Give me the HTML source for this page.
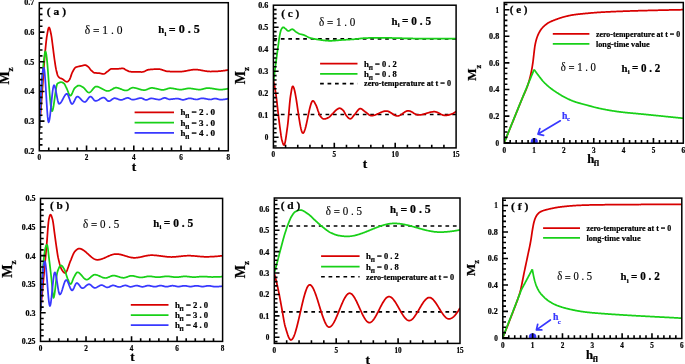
<!DOCTYPE html><html><head><meta charset="utf-8"><style>
html,body{margin:0;padding:0;background:#fff;width:685px;height:364px;overflow:hidden}
svg{display:block;will-change:transform}
text{font-family:"Liberation Serif",serif;fill:#000}
text[font-weight=bold],.yl,.xl{stroke:#000;stroke-width:0.22px}
.reg{stroke:#000;stroke-width:0.15px}
.yl{font-size:8.2px;font-weight:bold;text-anchor:end}
.xl{font-size:8.4px;font-weight:bold}
.b{font-weight:bold}
</style></head><body>
<svg width="685" height="364" viewBox="0 0 685 364">
<defs>
<clipPath id="clipa"><rect x="39.30" y="2.70" width="189.00" height="148.10"/></clipPath>
<clipPath id="clipb"><rect x="40.50" y="198.40" width="182.10" height="143.00"/></clipPath>
<clipPath id="clipc"><rect x="273.40" y="5.20" width="182.70" height="142.70"/></clipPath>
<clipPath id="clipd"><rect x="274.30" y="198.00" width="185.70" height="145.40"/></clipPath>
<clipPath id="clipe"><rect x="504.20" y="2.50" width="179.10" height="140.70"/></clipPath>
<clipPath id="clipf"><rect x="502.80" y="198.10" width="179.00" height="140.40"/></clipPath>
</defs>
<rect width="685" height="364" fill="#fff"/>
<path d="M39.30 130.00 39.78 123.82 40.27 117.58 40.75 111.27 41.23 104.91 41.72 98.48 42.20 92.00 42.65 85.70 43.10 79.08 43.55 72.41 44.00 65.94 44.45 59.91 44.90 54.60 45.34 49.87 45.78 45.34 46.22 41.19 46.66 37.61 47.10 34.80 47.58 32.21 48.05 29.82 48.52 28.08 49.00 27.40 49.44 27.84 49.88 29.02 50.32 30.71 50.76 32.71 51.20 34.80 51.60 37.11 52.00 40.04 52.40 43.26 52.80 46.40 53.22 49.69 53.65 53.08 54.08 56.41 54.50 59.50 54.90 62.24 55.30 64.90 55.70 67.33 56.10 69.40 56.52 71.32 56.95 73.09 57.38 74.56 57.80 75.60 58.22 76.31 58.65 76.90 59.08 77.36 59.50 77.70 59.98 77.99 60.47 78.22 60.95 78.41 61.43 78.59 61.92 78.78 62.40 79.00 62.85 79.27 63.30 79.59 63.75 79.95 64.20 80.32 64.65 80.69 65.10 81.04 65.55 81.34 66.00 81.58 66.45 81.74 66.90 81.80 67.32 81.72 67.73 81.50 68.15 81.18 68.57 80.76 68.98 80.30 69.40 79.80 69.88 78.98 70.37 77.78 70.85 76.36 71.33 74.88 71.82 73.51 72.30 72.40 72.77 71.49 73.24 70.59 73.71 69.72 74.19 68.94 74.66 68.27 75.13 67.74 75.60 67.40 76.07 67.18 76.54 67.00 77.01 66.86 77.49 66.73 77.96 66.62 78.43 66.51 78.90 66.40 79.32 66.31 79.73 66.22 80.15 66.14 80.57 66.06 80.98 65.98 81.40 65.90 81.86 65.79 82.33 65.67 82.79 65.53 83.25 65.40 83.71 65.29 84.17 65.19 84.64 65.12 85.10 65.10 85.58 65.16 86.07 65.34 86.55 65.59 87.03 65.91 87.52 66.25 88.00 66.60 88.46 66.99 88.91 67.49 89.37 68.07 89.83 68.67 90.29 69.27 90.74 69.83 91.20 70.30 91.67 70.75 92.14 71.21 92.61 71.65 93.09 72.06 93.56 72.41 94.03 72.66 94.50 72.80 94.95 72.86 95.41 72.91 95.86 72.95 96.32 72.98 96.77 73.01 97.23 73.03 97.68 73.06 98.14 73.08 98.59 73.12 99.05 73.15 99.50 73.20 99.94 73.27 100.39 73.36 100.83 73.48 101.28 73.60 101.72 73.72 102.17 73.83 102.61 73.92 103.06 73.98 103.50 74.00 103.94 73.94 104.39 73.78 104.83 73.54 105.28 73.24 105.72 72.89 106.17 72.52 106.61 72.16 107.06 71.81 107.50 71.50 107.97 71.17 108.43 70.80 108.90 70.41 109.37 70.01 109.83 69.63 110.30 69.30 110.77 69.04 111.23 68.86 111.70 68.80 112.18 68.80 112.67 68.80 113.15 68.80 113.63 68.80 114.12 68.80 114.60 68.80 115.08 68.80 115.57 68.80 116.05 68.80 116.53 68.80 117.02 68.80 117.50 68.80 117.98 68.79 118.46 68.77 118.95 68.73 119.43 68.68 119.91 68.63 120.39 68.57 120.87 68.52 121.35 68.47 121.84 68.43 122.32 68.41 122.80 68.40 123.26 68.46 123.72 68.61 124.19 68.83 124.65 69.10 125.11 69.40 125.58 69.69 126.04 69.97 126.50 70.20 126.99 70.42 127.47 70.66 127.96 70.89 128.45 71.12 128.94 71.33 129.43 71.50 129.91 71.63 130.40 71.70 130.86 71.73 131.32 71.76 131.78 71.79 132.24 71.81 132.70 71.83 133.16 71.85 133.62 71.86 134.08 71.88 134.54 71.89 135.00 71.90 135.47 71.91 135.93 71.92 136.40 71.93 136.87 71.94 137.33 71.95 137.80 71.96 138.27 71.97 138.73 71.97 139.20 71.98 139.67 71.99 140.13 71.99 140.60 71.99 141.07 72.00 141.53 72.00 142.00 72.00 142.47 71.97 142.93 71.89 143.40 71.77 143.87 71.61 144.33 71.43 144.80 71.22 145.27 71.00 145.73 70.77 146.20 70.54 146.67 70.32 147.13 70.12 147.60 69.94 148.07 69.78 148.53 69.67 149.00 69.60 149.49 69.55 149.99 69.51 150.48 69.47 150.98 69.43 151.47 69.39 151.97 69.35 152.46 69.31 152.96 69.28 153.45 69.25 153.95 69.22 154.44 69.20 154.94 69.18 155.43 69.16 155.93 69.14 156.42 69.13 156.92 69.11 157.41 69.11 157.91 69.10 158.40 69.10 158.89 69.12 159.39 69.17 159.88 69.24 160.38 69.34 160.87 69.47 161.37 69.61 161.86 69.76 162.36 69.93 162.85 70.10 163.35 70.27 163.84 70.45 164.34 70.62 164.83 70.78 165.33 70.93 165.82 71.07 166.32 71.19 166.81 71.28 167.31 71.36 167.80 71.40 168.26 71.43 168.72 71.45 169.18 71.47 169.65 71.49 170.11 71.51 170.57 71.53 171.03 71.55 171.49 71.56 171.95 71.58 172.42 71.59 172.88 71.59 173.34 71.60 173.80 71.60 174.28 71.60 174.75 71.60 175.23 71.60 175.71 71.60 176.18 71.60 176.66 71.60 177.14 71.60 177.62 71.60 178.09 71.60 178.57 71.60 179.05 71.60 179.52 71.60 180.00 71.60 180.49 71.59 180.99 71.58 181.48 71.55 181.97 71.51 182.47 71.46 182.96 71.40 183.45 71.34 183.95 71.27 184.44 71.19 184.94 71.11 185.43 71.02 185.92 70.93 186.42 70.84 186.91 70.74 187.40 70.65 187.90 70.55 188.39 70.46 188.88 70.36 189.38 70.27 189.87 70.18 190.36 70.09 190.86 70.01 191.35 69.93 191.85 69.86 192.34 69.80 192.83 69.74 193.33 69.69 193.82 69.65 194.31 69.62 194.81 69.61 195.30 69.60 195.79 69.61 196.29 69.62 196.78 69.65 197.27 69.69 197.77 69.74 198.26 69.80 198.75 69.86 199.25 69.93 199.74 70.01 200.23 70.09 200.73 70.18 201.22 70.27 201.71 70.36 202.21 70.46 202.70 70.55 203.19 70.64 203.69 70.74 204.18 70.83 204.67 70.92 205.17 71.01 205.66 71.09 206.15 71.17 206.65 71.24 207.14 71.30 207.63 71.36 208.13 71.41 208.62 71.45 209.11 71.48 209.61 71.49 210.10 71.50 210.59 71.50 211.08 71.50 211.58 71.49 212.07 71.49 212.56 71.48 213.05 71.47 213.54 71.46 214.04 71.45 214.53 71.43 215.02 71.41 215.51 71.39 216.00 71.37 216.49 71.35 216.99 71.32 217.48 71.29 217.97 71.26 218.46 71.23 218.95 71.19 219.45 71.15 219.94 71.11 220.43 71.06 220.92 71.02 221.41 70.97 221.91 70.91 222.40 70.85 222.89 70.79 223.38 70.73 223.87 70.66 224.36 70.59 224.86 70.52 225.35 70.44 225.84 70.36 226.33 70.28 226.82 70.19 227.32 70.10 227.81 70.00 228.30 69.90" stroke="#d80000" stroke-width="1.75" fill="none" stroke-linejoin="round" clip-path="url(#clipa)"/>
<path d="M39.30 130.00 39.75 120.39 40.20 111.36 40.65 102.92 41.10 95.09 41.55 87.87 42.00 81.26 42.45 75.28 42.90 69.94 43.35 65.24 43.80 61.20 44.20 57.80 44.60 54.60 45.00 52.23 45.40 51.30 45.87 52.17 46.34 54.62 46.81 58.37 47.29 63.18 47.76 68.76 48.23 74.88 48.70 81.25 49.17 87.62 49.64 93.74 50.11 99.32 50.59 104.13 51.06 107.88 51.53 110.33 52.00 111.20 52.46 110.68 52.92 109.23 53.38 107.03 53.83 104.27 54.29 101.13 54.75 97.78 55.21 94.40 55.67 91.19 56.12 88.31 56.58 85.95 57.04 84.28 57.50 83.50 57.96 83.22 58.42 82.97 58.89 82.75 59.35 82.56 59.81 82.41 60.28 82.30 60.74 82.22 61.20 82.20 61.67 82.25 62.13 82.38 62.60 82.59 63.07 82.85 63.53 83.16 64.00 83.50 64.42 83.94 64.83 84.60 65.25 85.40 65.67 86.28 66.08 87.17 66.50 88.00 66.99 89.03 67.47 90.23 67.96 91.51 68.45 92.76 68.94 93.91 69.43 94.84 69.91 95.47 70.40 95.70 70.89 95.48 71.38 94.88 71.87 94.00 72.36 92.92 72.84 91.75 73.33 90.58 73.82 89.50 74.31 88.61 74.80 88.00 75.26 87.59 75.71 87.19 76.17 86.81 76.62 86.45 77.08 86.14 77.53 85.88 77.99 85.67 78.44 85.55 78.90 85.50 79.36 85.53 79.81 85.63 80.27 85.77 80.72 85.96 81.18 86.18 81.63 86.42 82.09 86.68 82.54 86.94 83.00 87.20 83.49 87.54 83.98 87.98 84.47 88.51 84.97 89.09 85.46 89.70 85.95 90.31 86.44 90.90 86.93 91.44 87.43 91.91 87.92 92.28 88.41 92.51 88.90 92.60 89.39 92.52 89.87 92.30 90.36 91.97 90.85 91.53 91.33 91.02 91.82 90.45 92.31 89.85 92.79 89.25 93.28 88.65 93.77 88.08 94.25 87.57 94.74 87.13 95.23 86.80 95.71 86.58 96.20 86.50 96.69 86.52 97.17 86.59 97.66 86.69 98.15 86.83 98.64 87.00 99.12 87.20 99.61 87.43 100.10 87.67 100.59 87.92 101.08 88.19 101.56 88.47 102.05 88.75 102.54 89.03 103.03 89.31 103.51 89.58 104.00 89.83 104.49 90.07 104.98 90.30 105.46 90.50 105.95 90.67 106.44 90.81 106.93 90.91 107.41 90.98 107.90 91.00 108.38 90.97 108.86 90.87 109.35 90.73 109.83 90.54 110.31 90.31 110.79 90.06 111.28 89.78 111.76 89.50 112.24 89.20 112.72 88.92 113.21 88.64 113.69 88.39 114.17 88.16 114.65 87.97 115.14 87.83 115.62 87.73 116.10 87.70 116.59 87.72 117.09 87.78 117.58 87.87 118.08 87.99 118.57 88.14 119.07 88.30 119.56 88.49 120.06 88.69 120.55 88.89 121.05 89.10 121.55 89.31 122.04 89.51 122.53 89.71 123.03 89.90 123.53 90.06 124.02 90.21 124.52 90.33 125.01 90.42 125.50 90.48 126.00 90.50 126.49 90.46 126.99 90.34 127.48 90.17 127.97 89.94 128.46 89.68 128.96 89.40 129.45 89.10 129.94 88.80 130.44 88.52 130.93 88.26 131.42 88.03 131.91 87.86 132.41 87.74 132.90 87.70 133.39 87.71 133.88 87.75 134.37 87.81 134.87 87.89 135.36 87.99 135.85 88.10 136.34 88.23 136.83 88.37 137.32 88.51 137.81 88.67 138.30 88.82 138.80 88.98 139.29 89.13 139.78 89.29 140.27 89.43 140.76 89.57 141.25 89.70 141.74 89.81 142.23 89.91 142.73 89.99 143.22 90.05 143.71 90.09 144.20 90.10 144.68 90.08 145.16 90.01 145.64 89.90 146.12 89.76 146.61 89.59 147.09 89.40 147.57 89.21 148.05 89.00 148.53 88.79 149.01 88.60 149.49 88.41 149.97 88.24 150.46 88.10 150.94 87.99 151.42 87.92 151.90 87.90 152.36 87.91 152.83 87.95 153.29 88.01 153.75 88.09 154.22 88.18 154.68 88.29 155.15 88.39 155.61 88.50 156.07 88.61 156.54 88.71 157.00 88.80 157.48 88.90 157.97 89.00 158.45 89.12 158.93 89.24 159.42 89.36 159.90 89.48 160.38 89.59 160.87 89.69 161.35 89.78 161.83 89.84 162.32 89.89 162.80 89.90 163.29 89.88 163.77 89.82 164.26 89.72 164.75 89.60 165.23 89.46 165.72 89.30 166.21 89.13 166.69 88.97 167.18 88.80 167.67 88.64 168.15 88.50 168.64 88.38 169.13 88.28 169.61 88.22 170.10 88.20 170.60 88.21 171.09 88.24 171.59 88.28 172.08 88.33 172.58 88.40 173.07 88.48 173.57 88.56 174.06 88.65 174.56 88.75 175.05 88.85 175.55 88.95 176.04 89.05 176.54 89.15 177.03 89.24 177.53 89.32 178.02 89.40 178.52 89.47 179.01 89.52 179.51 89.56 180.00 89.59 180.50 89.60 180.98 89.59 181.46 89.56 181.93 89.51 182.41 89.45 182.89 89.37 183.37 89.29 183.84 89.20 184.32 89.10 184.80 89.00 185.28 88.90 185.76 88.80 186.23 88.71 186.71 88.63 187.19 88.55 187.67 88.49 188.14 88.44 188.62 88.41 189.10 88.40 189.58 88.41 190.05 88.43 190.53 88.46 191.01 88.50 191.49 88.56 191.96 88.62 192.44 88.69 192.92 88.76 193.40 88.84 193.87 88.92 194.35 89.00 194.83 89.08 195.30 89.16 195.78 89.24 196.26 89.31 196.74 89.38 197.21 89.44 197.69 89.50 198.17 89.54 198.65 89.57 199.12 89.59 199.60 89.60 200.07 89.59 200.54 89.54 201.01 89.48 201.48 89.39 201.95 89.29 202.42 89.17 202.89 89.05 203.36 88.92 203.84 88.78 204.31 88.65 204.78 88.53 205.25 88.41 205.72 88.31 206.19 88.22 206.66 88.16 207.13 88.11 207.60 88.10 208.08 88.11 208.56 88.12 209.04 88.15 209.53 88.19 210.01 88.24 210.49 88.29 210.97 88.35 211.45 88.42 211.93 88.49 212.41 88.56 212.90 88.64 213.38 88.73 213.86 88.81 214.34 88.89 214.82 88.97 215.30 89.06 215.79 89.14 216.27 89.21 216.75 89.28 217.23 89.35 217.71 89.41 218.19 89.46 218.67 89.51 219.16 89.55 219.64 89.58 220.12 89.59 220.60 89.60 221.08 89.60 221.56 89.58 222.04 89.56 222.53 89.52 223.01 89.48 223.49 89.43 223.97 89.38 224.45 89.31 224.93 89.24 225.41 89.17 225.89 89.08 226.38 89.00 226.86 88.90 227.34 88.81 227.82 88.70 228.30 88.60" stroke="#18d018" stroke-width="1.75" fill="none" stroke-linejoin="round" clip-path="url(#clipa)"/>
<path d="M39.30 130.00 39.75 118.78 40.20 108.55 40.65 99.36 41.10 91.25 41.55 84.27 42.00 78.46 42.45 73.86 42.90 70.52 43.35 68.49 43.80 67.80 44.28 69.33 44.76 73.47 45.24 79.57 45.72 86.98 46.20 95.05 46.68 103.12 47.16 110.53 47.64 116.63 48.12 120.77 48.60 122.30 49.09 121.44 49.58 119.07 50.07 115.53 50.56 111.15 51.05 106.27 51.55 101.23 52.04 96.35 52.53 91.97 53.02 88.43 53.51 86.06 54.00 85.20 54.46 85.63 54.93 86.82 55.39 88.60 55.85 90.79 56.32 93.24 56.78 95.76 57.25 98.21 57.71 100.40 58.17 102.18 58.64 103.37 59.10 103.80 59.59 103.69 60.08 103.37 60.56 102.88 61.05 102.24 61.54 101.48 62.03 100.64 62.51 99.73 63.00 98.80 63.49 97.87 63.98 96.96 64.46 96.12 64.95 95.36 65.44 94.72 65.93 94.23 66.41 93.91 66.90 93.80 67.36 94.04 67.83 94.69 68.29 95.66 68.75 96.87 69.22 98.21 69.68 99.59 70.15 100.93 70.61 102.14 71.07 103.11 71.54 103.76 72.00 104.00 72.48 103.83 72.96 103.36 73.45 102.65 73.93 101.78 74.41 100.80 74.89 99.80 75.37 98.82 75.85 97.95 76.34 97.24 76.82 96.77 77.30 96.60 77.77 96.66 78.24 96.83 78.71 97.10 79.17 97.44 79.64 97.85 80.11 98.31 80.58 98.80 81.05 99.30 81.52 99.80 81.99 100.29 82.46 100.75 82.92 101.16 83.39 101.50 83.86 101.77 84.33 101.94 84.80 102.00 85.27 101.89 85.75 101.60 86.22 101.16 86.70 100.60 87.17 99.97 87.65 99.30 88.12 98.63 88.60 98.00 89.08 97.44 89.55 97.00 90.03 96.71 90.50 96.60 90.95 96.70 91.41 96.97 91.86 97.39 92.32 97.89 92.77 98.46 93.23 99.04 93.68 99.61 94.14 100.11 94.59 100.53 95.05 100.80 95.50 100.90 95.98 100.87 96.46 100.77 96.95 100.63 97.43 100.44 97.91 100.21 98.39 99.96 98.88 99.68 99.36 99.40 99.84 99.10 100.32 98.82 100.81 98.54 101.29 98.29 101.77 98.06 102.25 97.87 102.74 97.73 103.22 97.63 103.70 97.60 104.15 97.68 104.61 97.91 105.06 98.26 105.52 98.68 105.97 99.16 106.43 99.64 106.88 100.12 107.34 100.54 107.79 100.89 108.25 101.12 108.70 101.20 109.18 101.14 109.67 100.98 110.15 100.73 110.63 100.42 111.12 100.07 111.60 99.70 112.08 99.33 112.57 98.98 113.05 98.67 113.53 98.42 114.02 98.26 114.50 98.20 114.96 98.22 115.43 98.29 115.89 98.40 116.36 98.54 116.82 98.70 117.29 98.87 117.75 99.05 118.21 99.23 118.68 99.40 119.14 99.56 119.61 99.70 120.07 99.81 120.54 99.88 121.00 99.90 121.48 99.87 121.96 99.79 122.44 99.66 122.91 99.50 123.39 99.32 123.87 99.11 124.35 98.90 124.83 98.69 125.31 98.48 125.79 98.30 126.26 98.14 126.74 98.01 127.22 97.93 127.70 97.90 128.19 97.95 128.68 98.09 129.17 98.29 129.66 98.53 130.15 98.80 130.64 99.07 131.13 99.31 131.62 99.51 132.11 99.65 132.60 99.70 133.09 99.68 133.59 99.64 134.08 99.57 134.58 99.48 135.07 99.37 135.56 99.24 136.06 99.11 136.55 98.97 137.05 98.83 137.54 98.69 138.04 98.56 138.53 98.43 139.02 98.32 139.52 98.23 140.01 98.16 140.51 98.12 141.00 98.10 141.46 98.14 141.93 98.26 142.39 98.43 142.85 98.64 143.32 98.88 143.78 99.12 144.25 99.36 144.71 99.57 145.17 99.74 145.64 99.86 146.10 99.90 146.56 99.87 147.03 99.77 147.49 99.63 147.95 99.45 148.42 99.25 148.88 99.05 149.35 98.85 149.81 98.67 150.27 98.53 150.74 98.43 151.20 98.40 151.67 98.41 152.14 98.45 152.61 98.50 153.08 98.57 153.55 98.65 154.02 98.74 154.49 98.84 154.96 98.95 155.44 99.05 155.91 99.16 156.38 99.26 156.85 99.35 157.32 99.43 157.79 99.50 158.26 99.55 158.73 99.59 159.20 99.60 159.66 99.57 160.12 99.47 160.57 99.33 161.03 99.16 161.49 98.96 161.95 98.75 162.41 98.54 162.87 98.34 163.32 98.17 163.78 98.03 164.24 97.93 164.70 97.90 165.17 97.94 165.64 98.05 166.11 98.20 166.58 98.39 167.05 98.60 167.52 98.81 167.99 99.00 168.46 99.15 168.93 99.26 169.40 99.30 169.87 99.29 170.34 99.27 170.81 99.24 171.28 99.20 171.75 99.15 172.22 99.10 172.69 99.04 173.16 98.98 173.64 98.92 174.11 98.86 174.58 98.80 175.05 98.75 175.52 98.70 175.99 98.66 176.46 98.63 176.93 98.61 177.40 98.60 177.87 98.62 178.33 98.69 178.80 98.79 179.27 98.91 179.73 99.05 180.20 99.20 180.67 99.35 181.13 99.49 181.60 99.61 182.07 99.71 182.53 99.78 183.00 99.80 183.48 99.78 183.96 99.72 184.44 99.62 184.91 99.50 185.39 99.36 185.87 99.21 186.35 99.05 186.83 98.89 187.31 98.74 187.79 98.60 188.26 98.48 188.74 98.38 189.22 98.32 189.70 98.30 190.19 98.32 190.67 98.37 191.16 98.44 191.64 98.54 192.13 98.65 192.61 98.77 193.10 98.90 193.59 99.03 194.07 99.15 194.56 99.26 195.04 99.36 195.53 99.43 196.01 99.48 196.50 99.50 196.96 99.48 197.42 99.41 197.88 99.31 198.33 99.19 198.79 99.05 199.25 98.90 199.71 98.75 200.17 98.61 200.62 98.49 201.08 98.39 201.54 98.32 202.00 98.30 202.48 98.31 202.97 98.34 203.45 98.39 203.93 98.45 204.42 98.53 204.90 98.61 205.38 98.70 205.87 98.80 206.35 98.90 206.83 99.00 207.32 99.10 207.80 99.19 208.28 99.27 208.77 99.35 209.25 99.41 209.73 99.46 210.22 99.49 210.70 99.50 211.18 99.47 211.66 99.37 212.13 99.24 212.61 99.08 213.09 98.92 213.57 98.76 214.04 98.63 214.52 98.53 215.00 98.50 215.47 98.52 215.93 98.58 216.40 98.67 216.87 98.79 217.33 98.91 217.80 99.05 218.27 99.19 218.73 99.31 219.20 99.43 219.67 99.52 220.13 99.58 220.60 99.60 221.08 99.60 221.56 99.59 222.04 99.57 222.53 99.55 223.01 99.52 223.49 99.48 223.97 99.43 224.45 99.38 224.93 99.31 225.41 99.23 225.89 99.14 226.38 99.04 226.86 98.92 227.34 98.80 227.82 98.66 228.30 98.50" stroke="#3838ff" stroke-width="1.75" fill="none" stroke-linejoin="round" clip-path="url(#clipa)"/>
<path d="M40.50 311.00 40.98 306.11 41.45 301.16 41.93 296.18 42.41 291.15 42.88 286.08 43.36 280.97 43.84 275.82 44.32 270.64 44.79 265.43 45.27 260.19 45.75 254.91 46.22 249.62 46.70 244.30 47.14 238.82 47.58 232.76 48.02 226.91 48.46 222.06 48.90 219.00 49.30 217.35 49.70 215.94 50.10 214.97 50.50 214.60 50.94 214.91 51.38 215.74 51.82 216.97 52.26 218.46 52.70 220.10 53.12 222.32 53.55 225.43 53.98 228.90 54.40 232.20 54.84 235.39 55.28 238.63 55.72 241.85 56.16 245.00 56.60 248.00 57.00 250.70 57.40 253.38 57.80 255.84 58.20 257.90 58.64 259.83 59.08 261.66 59.51 263.39 59.95 264.98 60.39 266.41 60.83 267.65 61.26 268.69 61.70 269.50 62.19 270.25 62.67 270.97 63.16 271.62 63.64 272.18 64.13 272.62 64.61 272.90 65.10 273.00 65.56 272.83 66.02 272.36 66.47 271.63 66.93 270.69 67.39 269.57 67.85 268.32 68.31 266.99 68.77 265.62 69.22 264.25 69.68 262.93 70.14 261.70 70.60 260.60 71.06 259.55 71.51 258.43 71.97 257.28 72.42 256.13 72.88 255.02 73.33 253.99 73.79 253.07 74.24 252.29 74.70 251.70 75.19 251.18 75.68 250.68 76.17 250.20 76.66 249.76 77.14 249.38 77.63 249.05 78.12 248.81 78.61 248.65 79.10 248.60 79.59 248.62 80.08 248.69 80.58 248.81 81.07 248.96 81.56 249.16 82.05 249.39 82.54 249.65 83.04 249.94 83.53 250.27 84.02 250.61 84.51 250.98 85.00 251.37 85.49 251.78 85.99 252.20 86.48 252.63 86.97 253.07 87.46 253.52 87.95 253.97 88.45 254.43 88.94 254.88 89.43 255.33 89.92 255.77 90.41 256.20 90.91 256.62 91.40 257.03 91.89 257.42 92.38 257.79 92.87 258.13 93.36 258.46 93.86 258.75 94.35 259.01 94.84 259.24 95.33 259.44 95.82 259.59 96.32 259.71 96.81 259.78 97.30 259.80 97.79 259.79 98.27 259.76 98.76 259.70 99.25 259.63 99.74 259.54 100.22 259.43 100.71 259.31 101.20 259.17 101.68 259.02 102.17 258.85 102.66 258.68 103.15 258.49 103.63 258.30 104.12 258.09 104.61 257.89 105.09 257.67 105.58 257.45 106.07 257.23 106.56 257.01 107.04 256.79 107.53 256.57 108.02 256.35 108.51 256.13 108.99 255.91 109.48 255.71 109.97 255.50 110.45 255.31 110.94 255.12 111.43 254.95 111.92 254.78 112.40 254.63 112.89 254.49 113.38 254.37 113.86 254.26 114.35 254.17 114.84 254.10 115.33 254.04 115.81 254.01 116.30 254.00 116.79 254.01 117.28 254.03 117.77 254.07 118.26 254.12 118.75 254.19 119.24 254.27 119.72 254.36 120.21 254.46 120.70 254.57 121.19 254.68 121.68 254.81 122.17 254.94 122.66 255.08 123.15 255.22 123.64 255.37 124.13 255.52 124.62 255.67 125.11 255.82 125.59 255.98 126.08 256.13 126.57 256.28 127.06 256.43 127.55 256.58 128.04 256.72 128.53 256.86 129.02 256.99 129.51 257.12 130.00 257.23 130.49 257.34 130.98 257.44 131.46 257.53 131.95 257.61 132.44 257.68 132.93 257.73 133.42 257.77 133.91 257.79 134.40 257.80 134.89 257.79 135.38 257.78 135.87 257.75 136.37 257.71 136.86 257.66 137.35 257.60 137.84 257.53 138.33 257.45 138.82 257.37 139.31 257.28 139.81 257.19 140.30 257.09 140.79 256.99 141.28 256.88 141.77 256.78 142.26 256.67 142.75 256.56 143.25 256.44 143.74 256.33 144.23 256.22 144.72 256.12 145.21 256.01 145.70 255.91 146.19 255.81 146.69 255.72 147.18 255.63 147.67 255.55 148.16 255.47 148.65 255.40 149.14 255.34 149.63 255.29 150.13 255.25 150.62 255.22 151.11 255.21 151.60 255.20 152.09 255.20 152.59 255.21 153.09 255.23 153.58 255.25 154.07 255.28 154.57 255.31 155.06 255.35 155.56 255.39 156.06 255.43 156.55 255.48 157.04 255.53 157.54 255.59 158.03 255.65 158.53 255.71 159.03 255.77 159.52 255.83 160.01 255.90 160.51 255.97 161.00 256.03 161.50 256.10 162.00 256.17 162.49 256.23 162.99 256.30 163.48 256.37 163.97 256.43 164.47 256.49 164.97 256.55 165.46 256.61 165.96 256.67 166.45 256.72 166.94 256.77 167.44 256.81 167.94 256.85 168.43 256.89 168.93 256.92 169.42 256.95 169.91 256.97 170.41 256.99 170.91 257.00 171.40 257.00 171.89 257.00 172.39 256.99 172.88 256.97 173.38 256.95 173.87 256.93 174.37 256.90 174.86 256.86 175.35 256.83 175.85 256.79 176.34 256.74 176.84 256.70 177.33 256.65 177.83 256.60 178.32 256.54 178.81 256.49 179.31 256.43 179.80 256.38 180.30 256.32 180.79 256.27 181.29 256.21 181.78 256.16 182.27 256.10 182.77 256.05 183.26 256.00 183.76 255.96 184.25 255.91 184.75 255.87 185.24 255.84 185.73 255.80 186.23 255.77 186.72 255.75 187.22 255.73 187.71 255.71 188.21 255.70 188.70 255.70 189.19 255.70 189.69 255.71 190.18 255.72 190.68 255.74 191.17 255.76 191.67 255.79 192.16 255.81 192.65 255.85 193.15 255.88 193.64 255.92 194.14 255.96 194.63 256.00 195.13 256.04 195.62 256.09 196.11 256.13 196.61 256.18 197.10 256.23 197.60 256.27 198.09 256.32 198.59 256.37 199.08 256.41 199.57 256.46 200.07 256.50 200.56 256.54 201.06 256.58 201.55 256.62 202.05 256.65 202.54 256.69 203.03 256.71 203.53 256.74 204.02 256.76 204.52 256.78 205.01 256.79 205.51 256.80 206.00 256.80 206.49 256.80 206.98 256.80 207.46 256.79 207.95 256.78 208.44 256.78 208.93 256.76 209.42 256.75 209.91 256.74 210.39 256.72 210.88 256.70 211.37 256.68 211.86 256.66 212.35 256.64 212.84 256.61 213.32 256.58 213.81 256.55 214.30 256.52 214.79 256.49 215.28 256.45 215.76 256.41 216.25 256.37 216.74 256.33 217.23 256.29 217.72 256.25 218.21 256.20 218.69 256.15 219.18 256.10 219.67 256.05 220.16 255.99 220.65 255.94 221.14 255.88 221.62 255.82 222.11 255.76 222.60 255.70" stroke="#d80000" stroke-width="1.75" fill="none" stroke-linejoin="round" clip-path="url(#clipb)"/>
<path d="M40.50 311.00 40.96 300.91 41.43 291.79 41.89 283.59 42.36 276.29 42.82 269.84 43.29 264.22 43.75 259.39 44.21 255.31 44.68 251.96 45.14 249.29 45.61 247.27 46.07 245.88 46.54 245.06 47.00 244.80 47.46 245.88 47.92 248.68 48.38 252.51 48.84 256.71 49.30 260.60 49.72 263.92 50.14 267.42 50.56 271.06 50.98 274.77 51.40 278.50 51.82 282.88 52.24 287.97 52.66 292.79 53.08 296.39 53.50 297.80 53.94 297.02 54.39 294.92 54.83 291.82 55.28 288.08 55.72 284.04 56.17 280.02 56.61 276.39 57.06 273.47 57.50 271.60 57.94 270.41 58.38 269.28 58.81 268.23 59.25 267.30 59.69 266.51 60.12 265.92 60.56 265.53 61.00 265.40 61.49 265.53 61.97 265.88 62.46 266.41 62.94 267.08 63.43 267.85 63.91 268.67 64.40 269.50 64.89 270.51 65.37 271.82 65.86 273.32 66.34 274.90 66.83 276.47 67.31 277.90 67.80 279.10 68.27 280.16 68.73 281.26 69.20 282.30 69.67 283.17 70.13 283.78 70.60 284.00 71.09 283.72 71.57 282.96 72.06 281.87 72.54 280.60 73.03 279.28 73.51 278.07 74.00 277.10 74.44 276.34 74.88 275.54 75.31 274.74 75.75 273.98 76.19 273.31 76.62 272.78 77.06 272.43 77.50 272.30 77.98 272.36 78.46 272.53 78.94 272.79 79.42 273.13 79.89 273.55 80.37 274.02 80.85 274.54 81.33 275.09 81.81 275.66 82.29 276.24 82.77 276.81 83.25 277.36 83.73 277.88 84.21 278.35 84.68 278.77 85.16 279.11 85.64 279.37 86.12 279.54 86.60 279.60 87.08 279.55 87.56 279.41 88.05 279.20 88.53 278.91 89.01 278.58 89.49 278.20 89.98 277.79 90.46 277.37 90.94 276.93 91.42 276.51 91.91 276.10 92.39 275.72 92.87 275.39 93.35 275.10 93.84 274.89 94.32 274.75 94.80 274.70 95.28 274.72 95.76 274.78 96.25 274.87 96.73 274.99 97.21 275.13 97.69 275.30 98.17 275.49 98.65 275.69 99.14 275.90 99.62 276.13 100.10 276.35 100.58 276.57 101.06 276.80 101.55 277.01 102.03 277.21 102.51 277.40 102.99 277.57 103.47 277.71 103.95 277.83 104.44 277.92 104.92 277.98 105.40 278.00 105.88 277.98 106.35 277.91 106.83 277.80 107.31 277.66 107.78 277.50 108.26 277.31 108.74 277.11 109.21 276.91 109.69 276.69 110.16 276.49 110.64 276.29 111.12 276.10 111.59 275.94 112.07 275.80 112.55 275.69 113.02 275.62 113.50 275.60 113.98 275.61 114.45 275.66 114.93 275.72 115.40 275.81 115.88 275.91 116.36 276.04 116.83 276.17 117.31 276.31 117.79 276.47 118.26 276.62 118.74 276.78 119.21 276.93 119.69 277.09 120.17 277.23 120.64 277.36 121.12 277.49 121.60 277.59 122.07 277.68 122.55 277.74 123.02 277.79 123.50 277.80 123.97 277.78 124.44 277.72 124.91 277.64 125.38 277.52 125.85 277.38 126.32 277.23 126.79 277.06 127.26 276.89 127.74 276.71 128.21 276.54 128.68 276.37 129.15 276.22 129.62 276.08 130.09 275.96 130.56 275.88 131.03 275.82 131.50 275.80 131.97 275.81 132.45 275.85 132.93 275.90 133.40 275.98 133.88 276.07 134.35 276.17 134.82 276.28 135.30 276.40 135.78 276.52 136.25 276.65 136.72 276.78 137.20 276.90 137.68 277.02 138.15 277.13 138.62 277.23 139.10 277.32 139.57 277.40 140.05 277.45 140.53 277.49 141.00 277.50 141.48 277.49 141.95 277.45 142.43 277.40 142.91 277.33 143.38 277.25 143.86 277.16 144.34 277.06 144.81 276.95 145.29 276.85 145.76 276.74 146.24 276.64 146.72 276.55 147.19 276.47 147.67 276.40 148.15 276.35 148.62 276.31 149.10 276.30 149.59 276.31 150.09 276.33 150.58 276.37 151.08 276.41 151.57 276.47 152.07 276.53 152.56 276.60 153.06 276.68 153.55 276.75 154.04 276.82 154.54 276.90 155.03 276.97 155.53 277.03 156.02 277.09 156.52 277.13 157.01 277.17 157.51 277.19 158.00 277.20 158.47 277.19 158.95 277.17 159.42 277.14 159.89 277.10 160.37 277.05 160.84 276.99 161.32 276.92 161.79 276.86 162.26 276.79 162.74 276.71 163.21 276.64 163.68 276.58 164.16 276.51 164.63 276.45 165.11 276.40 165.58 276.36 166.05 276.33 166.53 276.31 167.00 276.30 167.47 276.31 167.95 276.33 168.42 276.36 168.89 276.40 169.37 276.45 169.84 276.51 170.32 276.58 170.79 276.64 171.26 276.71 171.74 276.79 172.21 276.86 172.68 276.92 173.16 276.99 173.63 277.05 174.11 277.10 174.58 277.14 175.05 277.17 175.53 277.19 176.00 277.20 176.47 277.19 176.95 277.18 177.42 277.15 177.89 277.11 178.37 277.06 178.84 277.01 179.32 276.95 179.79 276.89 180.26 276.83 180.74 276.77 181.21 276.71 181.68 276.65 182.16 276.59 182.63 276.54 183.11 276.49 183.58 276.45 184.05 276.42 184.53 276.41 185.00 276.40 185.47 276.41 185.95 276.42 186.42 276.45 186.89 276.48 187.37 276.52 187.84 276.57 188.32 276.62 188.79 276.67 189.26 276.72 189.74 276.78 190.21 276.83 190.68 276.88 191.16 276.93 191.63 276.98 192.11 277.02 192.58 277.05 193.05 277.08 193.53 277.09 194.00 277.10 194.47 277.10 194.95 277.08 195.42 277.06 195.89 277.03 196.37 277.00 196.84 276.96 197.32 276.92 197.79 276.87 198.26 276.82 198.74 276.78 199.21 276.73 199.68 276.68 200.16 276.64 200.63 276.60 201.11 276.57 201.58 276.54 202.05 276.52 202.53 276.50 203.00 276.50 203.47 276.50 203.95 276.52 204.42 276.53 204.89 276.56 205.37 276.59 205.84 276.62 206.32 276.65 206.79 276.69 207.26 276.73 207.74 276.77 208.21 276.81 208.68 276.85 209.16 276.88 209.63 276.91 210.11 276.94 210.58 276.97 211.05 276.98 211.53 277.00 212.00 277.00 212.48 277.00 212.96 277.00 213.45 276.99 213.93 276.99 214.41 276.98 214.89 276.98 215.37 276.97 215.85 276.96 216.34 276.95 216.82 276.93 217.30 276.92 217.78 276.90 218.26 276.88 218.75 276.86 219.23 276.83 219.71 276.81 220.19 276.78 220.67 276.75 221.15 276.72 221.64 276.68 222.12 276.64 222.60 276.60" stroke="#18d018" stroke-width="1.75" fill="none" stroke-linejoin="round" clip-path="url(#clipb)"/>
<path d="M40.50 311.00 40.98 301.42 41.46 292.67 41.93 284.83 42.41 277.97 42.89 272.18 43.37 267.54 43.84 264.13 44.32 262.02 44.80 261.30 45.26 262.34 45.73 265.20 46.19 269.46 46.65 274.73 47.12 280.61 47.58 286.69 48.05 292.57 48.51 297.84 48.97 302.10 49.44 304.96 49.90 306.00 50.39 305.06 50.88 302.50 51.37 298.72 51.86 294.14 52.35 289.15 52.84 284.16 53.33 279.58 53.82 275.80 54.31 273.24 54.80 272.30 55.25 272.82 55.71 274.23 56.16 276.35 56.62 278.97 57.07 281.89 57.53 284.91 57.98 287.83 58.44 290.45 58.89 292.57 59.35 293.98 59.80 294.50 60.29 294.26 60.78 293.58 61.28 292.54 61.77 291.23 62.26 289.72 62.75 288.08 63.25 286.42 63.74 284.78 64.23 283.27 64.72 281.96 65.22 280.92 65.71 280.24 66.20 280.00 66.69 280.20 67.18 280.77 67.67 281.62 68.17 282.70 68.66 283.91 69.15 285.20 69.64 286.49 70.13 287.70 70.62 288.78 71.12 289.63 71.61 290.20 72.10 290.40 72.57 290.19 73.04 289.63 73.51 288.80 73.98 287.80 74.45 286.70 74.92 285.60 75.39 284.60 75.86 283.77 76.33 283.21 76.80 283.00 77.27 283.10 77.73 283.39 78.20 283.81 78.67 284.35 79.13 284.96 79.60 285.60 80.07 286.24 80.53 286.85 81.00 287.39 81.47 287.81 81.93 288.10 82.40 288.20 82.87 288.14 83.34 287.98 83.81 287.73 84.29 287.41 84.76 287.03 85.23 286.63 85.70 286.20 86.17 285.77 86.64 285.37 87.11 284.99 87.59 284.67 88.06 284.42 88.53 284.26 89.00 284.20 89.48 284.27 89.97 284.47 90.45 284.78 90.93 285.16 91.42 285.59 91.90 286.05 92.38 286.51 92.87 286.94 93.35 287.32 93.83 287.63 94.32 287.83 94.80 287.90 95.29 287.86 95.77 287.74 96.26 287.57 96.74 287.34 97.23 287.08 97.71 286.80 98.20 286.50 98.69 286.20 99.17 285.92 99.66 285.66 100.14 285.43 100.63 285.26 101.11 285.14 101.60 285.10 102.07 285.15 102.55 285.27 103.02 285.46 103.50 285.70 103.97 285.97 104.45 286.25 104.92 286.53 105.40 286.80 105.88 287.04 106.35 287.23 106.83 287.35 107.30 287.40 107.77 287.36 108.25 287.25 108.72 287.09 109.20 286.88 109.67 286.65 110.15 286.40 110.62 286.15 111.10 285.92 111.58 285.71 112.05 285.55 112.53 285.44 113.00 285.40 113.48 285.43 113.95 285.50 114.43 285.62 114.91 285.76 115.38 285.93 115.86 286.11 116.34 286.29 116.82 286.47 117.29 286.64 117.77 286.78 118.25 286.90 118.72 286.97 119.20 287.00 119.68 286.97 120.15 286.90 120.63 286.78 121.11 286.64 121.58 286.47 122.06 286.29 122.54 286.11 123.02 285.93 123.49 285.76 123.97 285.62 124.45 285.50 124.92 285.43 125.40 285.40 125.87 285.43 126.35 285.52 126.82 285.66 127.29 285.82 127.76 286.00 128.24 286.20 128.71 286.38 129.18 286.54 129.65 286.68 130.13 286.77 130.60 286.80 131.07 286.78 131.54 286.72 132.01 286.64 132.48 286.53 132.95 286.40 133.42 286.27 133.88 286.13 134.35 286.00 134.82 285.87 135.29 285.76 135.76 285.68 136.23 285.62 136.70 285.60 137.17 285.62 137.65 285.69 138.12 285.79 138.60 285.91 139.07 286.05 139.55 286.20 140.03 286.35 140.50 286.49 140.97 286.61 141.45 286.71 141.93 286.78 142.40 286.80 142.88 286.78 143.35 286.71 143.82 286.61 144.30 286.49 144.78 286.35 145.25 286.20 145.72 286.05 146.20 285.91 146.68 285.79 147.15 285.69 147.62 285.62 148.10 285.60 148.58 285.62 149.06 285.66 149.54 285.73 150.01 285.82 150.49 285.92 150.97 286.03 151.45 286.15 151.93 286.27 152.41 286.38 152.89 286.48 153.36 286.57 153.84 286.64 154.32 286.68 154.80 286.70 155.28 286.68 155.75 286.62 156.23 286.53 156.70 286.41 157.18 286.29 157.65 286.15 158.12 286.01 158.60 285.89 159.07 285.77 159.55 285.68 160.03 285.62 160.50 285.60 160.96 285.62 161.42 285.67 161.88 285.75 162.35 285.85 162.81 285.96 163.27 286.09 163.73 286.21 164.19 286.34 164.65 286.45 165.12 286.55 165.58 286.63 166.04 286.68 166.50 286.70 166.96 286.68 167.42 286.64 167.88 286.56 168.35 286.47 168.81 286.37 169.27 286.26 169.73 286.14 170.19 286.03 170.65 285.93 171.12 285.84 171.58 285.76 172.04 285.72 172.50 285.70 172.96 285.72 173.42 285.76 173.88 285.82 174.35 285.90 174.81 286.00 175.27 286.10 175.73 286.20 176.19 286.30 176.65 286.40 177.12 286.48 177.58 286.54 178.04 286.58 178.50 286.60 178.96 286.59 179.42 286.55 179.88 286.49 180.35 286.42 180.81 286.34 181.27 286.25 181.73 286.15 182.19 286.06 182.65 285.98 183.12 285.91 183.58 285.85 184.04 285.81 184.50 285.80 184.96 285.81 185.42 285.85 185.88 285.91 186.35 285.98 186.81 286.06 187.27 286.15 187.73 286.25 188.19 286.34 188.65 286.42 189.12 286.49 189.58 286.55 190.04 286.59 190.50 286.60 190.96 286.59 191.42 286.55 191.88 286.49 192.35 286.42 192.81 286.34 193.27 286.25 193.73 286.15 194.19 286.06 194.65 285.98 195.12 285.91 195.58 285.85 196.04 285.81 196.50 285.80 196.96 285.81 197.42 285.85 197.88 285.91 198.35 285.98 198.81 286.06 199.27 286.15 199.73 286.25 200.19 286.34 200.65 286.42 201.12 286.49 201.58 286.55 202.04 286.59 202.50 286.60 202.96 286.59 203.42 286.55 203.88 286.49 204.35 286.42 204.81 286.34 205.27 286.25 205.73 286.15 206.19 286.06 206.65 285.98 207.12 285.91 207.58 285.85 208.04 285.81 208.50 285.80 208.96 285.81 209.42 285.85 209.88 285.91 210.35 285.98 210.81 286.06 211.27 286.15 211.73 286.25 212.19 286.34 212.65 286.42 213.12 286.49 213.58 286.55 214.04 286.59 214.50 286.60 214.98 286.60 215.45 286.60 215.93 286.59 216.41 286.59 216.88 286.58 217.36 286.57 217.84 286.56 218.31 286.54 218.79 286.51 219.26 286.49 219.74 286.45 220.22 286.41 220.69 286.36 221.17 286.31 221.65 286.25 222.12 286.18 222.60 286.10" stroke="#3838ff" stroke-width="1.75" fill="none" stroke-linejoin="round" clip-path="url(#clipb)"/>
<path d="M273.40 38.90H456.10" stroke="#000" stroke-width="1.6" stroke-dasharray="3.7 3.75" stroke-dashoffset="0" fill="none" clip-path="url(#clipc)"/>
<path d="M273.40 114.50H456.10" stroke="#000" stroke-width="1.6" stroke-dasharray="3.7 3.75" stroke-dashoffset="0" fill="none" clip-path="url(#clipc)"/>
<path d="M273.40 82.00 273.84 78.54 274.28 75.10 274.72 71.70 275.16 68.33 275.60 65.00 276.04 61.70 276.48 58.43 276.92 55.19 277.36 51.98 277.80 48.80 278.27 45.22 278.75 41.56 279.23 38.17 279.70 35.40 280.07 33.58 280.45 31.92 280.82 30.54 281.20 29.60 281.60 28.89 282.00 28.27 282.40 27.76 282.80 27.42 283.20 27.30 283.66 27.39 284.12 27.64 284.58 27.98 285.04 28.35 285.50 28.70 285.97 29.10 286.43 29.58 286.90 30.09 287.37 30.55 287.83 30.87 288.30 31.00 288.79 30.92 289.27 30.72 289.76 30.43 290.25 30.10 290.74 29.77 291.23 29.48 291.71 29.28 292.20 29.20 292.68 29.28 293.15 29.51 293.62 29.85 294.10 30.26 294.57 30.70 295.05 31.15 295.52 31.56 296.00 31.90 296.49 32.20 296.98 32.50 297.46 32.80 297.95 33.09 298.44 33.36 298.92 33.60 299.41 33.82 299.90 34.00 300.37 34.14 300.84 34.26 301.31 34.36 301.79 34.46 302.26 34.56 302.73 34.67 303.20 34.80 303.67 34.95 304.13 35.13 304.60 35.33 305.07 35.54 305.53 35.77 306.00 36.00 306.47 36.24 306.93 36.49 307.40 36.72 307.87 36.96 308.33 37.18 308.80 37.39 309.27 37.58 309.73 37.75 310.20 37.90 310.68 38.04 311.16 38.17 311.65 38.29 312.13 38.41 312.61 38.53 313.09 38.64 313.58 38.75 314.06 38.85 314.54 38.95 315.02 39.04 315.51 39.13 315.99 39.22 316.47 39.30 316.95 39.38 317.44 39.46 317.92 39.53 318.40 39.60 318.88 39.67 319.37 39.74 319.85 39.81 320.33 39.88 320.82 39.95 321.30 40.02 321.78 40.09 322.27 40.15 322.75 40.22 323.23 40.28 323.72 40.34 324.20 40.40 324.68 40.46 325.17 40.51 325.65 40.56 326.13 40.61 326.62 40.65 327.10 40.69 327.58 40.72 328.07 40.75 328.55 40.77 329.03 40.79 329.52 40.80 330.00 40.80 330.49 40.80 330.98 40.79 331.46 40.78 331.95 40.76 332.44 40.74 332.93 40.71 333.41 40.68 333.90 40.65 334.39 40.61 334.88 40.57 335.36 40.53 335.85 40.49 336.34 40.45 336.82 40.41 337.31 40.36 337.80 40.32 338.29 40.27 338.77 40.23 339.26 40.19 339.75 40.15 340.24 40.11 340.72 40.07 341.21 40.03 341.70 40.00 342.19 39.97 342.68 39.94 343.16 39.91 343.65 39.88 344.14 39.85 344.62 39.83 345.11 39.80 345.60 39.77 346.09 39.75 346.57 39.72 347.06 39.69 347.55 39.67 348.04 39.64 348.52 39.61 349.01 39.59 349.50 39.56 349.99 39.53 350.47 39.50 350.96 39.47 351.45 39.44 351.94 39.40 352.42 39.37 352.91 39.34 353.40 39.30 353.89 39.26 354.38 39.22 354.86 39.17 355.35 39.12 355.84 39.06 356.32 39.01 356.81 38.95 357.30 38.89 357.79 38.83 358.27 38.76 358.76 38.70 359.25 38.64 359.74 38.58 360.23 38.52 360.71 38.46 361.20 38.41 361.69 38.35 362.18 38.30 362.66 38.26 363.15 38.22 363.64 38.18 364.12 38.15 364.61 38.12 365.10 38.10 365.60 38.08 366.09 38.07 366.59 38.05 367.09 38.03 367.58 38.02 368.08 38.00 368.58 37.99 369.07 37.97 369.57 37.96 370.07 37.95 370.56 37.93 371.06 37.92 371.56 37.91 372.05 37.90 372.55 37.89 373.05 37.88 373.54 37.87 374.04 37.86 374.54 37.85 375.03 37.84 375.53 37.83 376.03 37.83 376.52 37.82 377.02 37.81 377.52 37.81 378.01 37.81 378.51 37.80 379.01 37.80 379.50 37.80 380.00 37.80 380.49 37.80 380.98 37.80 381.46 37.80 381.95 37.81 382.44 37.81 382.93 37.82 383.41 37.82 383.90 37.83 384.39 37.83 384.88 37.84 385.37 37.85 385.85 37.86 386.34 37.87 386.83 37.88 387.32 37.89 387.80 37.90 388.29 37.91 388.78 37.92 389.27 37.93 389.76 37.94 390.24 37.96 390.73 37.97 391.22 37.98 391.71 37.99 392.20 38.01 392.68 38.02 393.17 38.03 393.66 38.05 394.15 38.06 394.63 38.07 395.12 38.08 395.61 38.10 396.10 38.11 396.59 38.12 397.07 38.13 397.56 38.15 398.05 38.16 398.54 38.17 399.02 38.18 399.51 38.19 400.00 38.20 400.49 38.21 400.98 38.22 401.46 38.23 401.95 38.24 402.44 38.25 402.93 38.26 403.41 38.27 403.90 38.29 404.39 38.30 404.88 38.31 405.37 38.32 405.85 38.33 406.34 38.34 406.83 38.36 407.32 38.37 407.80 38.38 408.29 38.39 408.78 38.40 409.27 38.41 409.76 38.42 410.24 38.44 410.73 38.45 411.22 38.46 411.71 38.47 412.20 38.48 412.68 38.49 413.17 38.50 413.66 38.51 414.15 38.52 414.63 38.53 415.12 38.54 415.61 38.54 416.10 38.55 416.59 38.56 417.07 38.57 417.56 38.57 418.05 38.58 418.54 38.59 419.02 38.59 419.51 38.60 420.00 38.60 420.49 38.60 420.98 38.61 421.46 38.61 421.95 38.62 422.44 38.62 422.93 38.62 423.41 38.63 423.90 38.63 424.39 38.63 424.88 38.64 425.37 38.64 425.85 38.64 426.34 38.65 426.83 38.65 427.32 38.65 427.80 38.66 428.29 38.66 428.78 38.66 429.27 38.67 429.76 38.67 430.24 38.67 430.73 38.67 431.22 38.68 431.71 38.68 432.20 38.68 432.68 38.68 433.17 38.69 433.66 38.69 434.15 38.69 434.63 38.69 435.12 38.69 435.61 38.69 436.10 38.69 436.59 38.70 437.07 38.70 437.56 38.70 438.05 38.70 438.54 38.70 439.02 38.70 439.51 38.70 440.00 38.70 440.49 38.70 440.98 38.70 441.46 38.70 441.95 38.70 442.44 38.70 442.93 38.70 443.42 38.70 443.90 38.70 444.39 38.70 444.88 38.70 445.37 38.70 445.85 38.70 446.34 38.70 446.83 38.70 447.32 38.70 447.81 38.70 448.29 38.70 448.78 38.70 449.27 38.70 449.76 38.70 450.25 38.70 450.73 38.70 451.22 38.70 451.71 38.70 452.20 38.70 452.68 38.70 453.17 38.70 453.66 38.70 454.15 38.70 454.64 38.70 455.12 38.70 455.61 38.70 456.10 38.70" stroke="#18d018" stroke-width="1.75" fill="none" stroke-linejoin="round" clip-path="url(#clipc)"/>
<path d="M273.40 81.00 273.85 82.76 274.30 84.85 274.75 87.22 275.20 89.84 275.65 92.64 276.10 95.60 276.53 98.79 276.95 102.45 277.38 106.29 277.80 110.00 278.20 113.39 278.60 116.83 279.00 120.21 279.40 123.47 279.80 126.50 280.22 129.61 280.64 132.73 281.06 135.64 281.48 138.13 281.90 140.00 282.32 141.48 282.74 142.86 283.16 144.02 283.58 144.81 284.00 145.10 284.44 144.63 284.88 143.34 285.31 141.36 285.75 138.85 286.19 135.96 286.62 132.84 287.06 129.64 287.50 126.50 287.94 122.84 288.39 118.30 288.83 113.26 289.27 108.09 289.71 103.17 290.16 98.88 290.60 95.60 291.02 93.02 291.44 90.52 291.86 88.37 292.28 86.87 292.70 86.30 293.19 86.61 293.67 87.49 294.16 88.89 294.64 90.75 295.13 93.00 295.61 95.58 296.10 98.43 296.59 101.50 297.07 104.72 297.56 108.03 298.04 111.37 298.53 114.68 299.01 117.90 299.50 120.97 299.99 123.82 300.47 126.40 300.96 128.65 301.44 130.51 301.93 131.91 302.41 132.79 302.90 133.10 303.38 132.89 303.85 132.28 304.33 131.31 304.80 130.03 305.28 128.48 305.76 126.70 306.23 124.73 306.71 122.61 307.19 120.39 307.66 118.10 308.14 115.80 308.61 113.51 309.09 111.29 309.57 109.17 310.04 107.20 310.52 105.42 311.00 103.87 311.47 102.59 311.95 101.62 312.42 101.01 312.90 100.80 313.37 100.96 313.84 101.39 314.31 102.04 314.79 102.86 315.26 103.78 315.73 104.74 316.20 105.70 316.62 106.67 317.04 107.83 317.46 109.10 317.88 110.36 318.30 111.50 318.70 112.54 319.10 113.61 319.50 114.61 319.90 115.47 320.30 116.10 320.76 116.66 321.23 117.19 321.69 117.68 322.15 118.12 322.61 118.48 323.07 118.76 323.54 118.94 324.00 119.00 324.47 118.98 324.93 118.91 325.40 118.81 325.87 118.67 326.33 118.51 326.80 118.32 327.27 118.12 327.73 117.91 328.20 117.70 328.66 117.45 329.11 117.13 329.57 116.75 330.02 116.32 330.48 115.87 330.93 115.40 331.39 114.92 331.84 114.45 332.30 114.00 332.76 113.55 333.21 113.07 333.67 112.57 334.12 112.07 334.58 111.58 335.03 111.10 335.49 110.65 335.94 110.25 336.40 109.90 336.84 109.58 337.29 109.25 337.73 108.93 338.17 108.64 338.61 108.41 339.06 108.26 339.50 108.20 339.95 108.25 340.40 108.38 340.85 108.59 341.30 108.86 341.75 109.18 342.20 109.53 342.65 109.91 343.10 110.30 343.57 110.84 344.04 111.58 344.51 112.45 344.99 113.37 345.46 114.27 345.93 115.07 346.40 115.70 346.88 116.23 347.35 116.77 347.82 117.29 348.30 117.77 348.77 118.19 349.25 118.51 349.72 118.72 350.20 118.80 350.68 118.71 351.16 118.46 351.64 118.07 352.12 117.58 352.60 117.01 353.08 116.39 353.56 115.76 354.04 115.13 354.52 114.53 355.00 114.00 355.47 113.48 355.95 112.88 356.42 112.25 356.89 111.60 357.36 110.95 357.84 110.34 358.31 109.78 358.78 109.30 359.25 108.93 359.73 108.69 360.20 108.60 360.68 108.65 361.16 108.80 361.65 109.04 362.13 109.34 362.61 109.69 363.09 110.07 363.57 110.48 364.05 110.89 364.54 111.29 365.02 111.67 365.50 112.00 365.98 112.33 366.47 112.70 366.95 113.10 367.43 113.51 367.92 113.92 368.40 114.31 368.88 114.68 369.37 115.02 369.85 115.30 370.33 115.51 370.82 115.65 371.30 115.70 371.79 115.69 372.27 115.64 372.76 115.58 373.25 115.49 373.74 115.37 374.22 115.24 374.71 115.09 375.20 114.92 375.68 114.74 376.17 114.55 376.66 114.34 377.15 114.13 377.63 113.91 378.12 113.69 378.61 113.46 379.09 113.24 379.58 113.01 380.07 112.79 380.55 112.57 381.04 112.36 381.53 112.15 382.02 111.96 382.50 111.78 382.99 111.61 383.48 111.46 383.96 111.33 384.45 111.21 384.94 111.12 385.43 111.06 385.91 111.01 386.40 111.00 386.89 111.03 387.37 111.11 387.86 111.23 388.35 111.40 388.83 111.61 389.32 111.84 389.81 112.11 390.30 112.39 390.78 112.70 391.27 113.01 391.76 113.34 392.24 113.66 392.73 113.99 393.22 114.30 393.70 114.61 394.19 114.89 394.68 115.16 395.17 115.39 395.65 115.60 396.14 115.77 396.63 115.89 397.11 115.97 397.60 116.00 398.08 115.97 398.55 115.88 399.03 115.74 399.51 115.55 399.99 115.32 400.46 115.05 400.94 114.76 401.42 114.44 401.90 114.10 402.37 113.75 402.85 113.40 403.33 113.05 403.80 112.70 404.28 112.36 404.76 112.04 405.24 111.75 405.71 111.48 406.19 111.25 406.67 111.06 407.15 110.92 407.62 110.83 408.10 110.80 408.58 110.83 409.05 110.90 409.53 111.01 410.01 111.17 410.49 111.35 410.96 111.57 411.44 111.81 411.92 112.06 412.40 112.33 412.87 112.61 413.35 112.90 413.83 113.19 414.30 113.47 414.78 113.74 415.26 113.99 415.74 114.23 416.21 114.45 416.69 114.63 417.17 114.79 417.65 114.90 418.12 114.97 418.60 115.00 419.09 114.99 419.59 114.96 420.08 114.92 420.58 114.86 421.07 114.78 421.56 114.70 422.06 114.60 422.55 114.48 423.04 114.36 423.54 114.23 424.03 114.10 424.52 113.96 425.02 113.81 425.51 113.66 426.01 113.50 426.50 113.35 426.99 113.20 427.49 113.04 427.98 112.89 428.48 112.74 428.97 112.60 429.46 112.47 429.96 112.34 430.45 112.22 430.94 112.10 431.44 112.00 431.93 111.92 432.42 111.84 432.92 111.78 433.41 111.74 433.91 111.71 434.40 111.70 434.88 111.72 435.35 111.79 435.83 111.89 436.31 112.02 436.79 112.19 437.26 112.38 437.74 112.59 438.22 112.81 438.70 113.05 439.17 113.30 439.65 113.55 440.13 113.80 440.60 114.05 441.08 114.29 441.56 114.51 442.04 114.72 442.51 114.91 442.99 115.08 443.47 115.21 443.95 115.31 444.42 115.38 444.90 115.40 445.39 115.39 445.87 115.37 446.36 115.33 446.85 115.28 447.33 115.21 447.82 115.13 448.31 115.04 448.80 114.92 449.28 114.80 449.77 114.65 450.26 114.50 450.74 114.32 451.23 114.14 451.72 113.93 452.20 113.71 452.69 113.48 453.18 113.23 453.67 112.96 454.15 112.68 454.64 112.39 455.13 112.07 455.61 111.74 456.10 111.40" stroke="#d80000" stroke-width="1.75" fill="none" stroke-linejoin="round" clip-path="url(#clipc)"/>
<path d="M274.10 226.00H460.00" stroke="#000" stroke-width="1.6" stroke-dasharray="3.7 3.75" stroke-dashoffset="0" fill="none" clip-path="url(#clipd)"/>
<path d="M274.10 311.90H460.00" stroke="#000" stroke-width="1.6" stroke-dasharray="3.7 3.75" stroke-dashoffset="0" fill="none" clip-path="url(#clipd)"/>
<path d="M274.10 273.50 274.59 271.83 275.07 270.13 275.56 268.40 276.04 266.66 276.53 264.89 277.01 263.11 277.50 261.30 277.94 259.62 278.39 257.90 278.83 256.15 279.27 254.39 279.71 252.63 280.16 250.90 280.60 249.20 281.06 247.44 281.53 245.68 281.99 243.92 282.45 242.18 282.91 240.46 283.38 238.79 283.84 237.16 284.30 235.60 284.76 234.08 285.23 232.60 285.69 231.14 286.15 229.72 286.61 228.34 287.07 227.01 287.54 225.73 288.00 224.50 288.44 223.37 288.88 222.24 289.31 221.14 289.75 220.08 290.19 219.07 290.62 218.13 291.06 217.27 291.50 216.50 291.98 215.73 292.45 214.98 292.93 214.26 293.40 213.59 293.88 212.98 294.35 212.46 294.82 212.02 295.30 211.70 295.79 211.43 296.28 211.17 296.77 210.93 297.26 210.71 297.75 210.51 298.24 210.34 298.73 210.20 299.22 210.09 299.71 210.02 300.20 210.00 300.67 210.02 301.14 210.09 301.61 210.21 302.07 210.35 302.54 210.54 303.01 210.75 303.48 210.99 303.95 211.25 304.42 211.54 304.89 211.83 305.36 212.14 305.82 212.45 306.29 212.77 306.76 213.09 307.23 213.40 307.70 213.70 308.18 214.02 308.66 214.37 309.15 214.75 309.63 215.14 310.11 215.56 310.59 216.00 311.08 216.44 311.56 216.91 312.04 217.37 312.52 217.85 313.01 218.33 313.49 218.80 313.97 219.28 314.45 219.75 314.94 220.21 315.42 220.66 315.90 221.10 316.37 221.52 316.84 221.95 317.31 222.38 317.79 222.81 318.26 223.23 318.73 223.66 319.20 224.09 319.67 224.51 320.14 224.93 320.61 225.34 321.09 225.74 321.56 226.14 322.03 226.53 322.50 226.90 322.99 227.28 323.48 227.67 323.96 228.05 324.45 228.44 324.94 228.82 325.43 229.20 325.92 229.58 326.41 229.94 326.89 230.30 327.38 230.65 327.87 230.99 328.36 231.32 328.85 231.63 329.34 231.92 329.82 232.20 330.31 232.46 330.80 232.70 331.28 232.93 331.76 233.15 332.25 233.37 332.73 233.58 333.21 233.79 333.69 233.99 334.18 234.19 334.66 234.38 335.14 234.56 335.62 234.73 336.11 234.89 336.59 235.04 337.07 235.18 337.55 235.31 338.04 235.42 338.52 235.52 339.00 235.60 339.47 235.67 339.94 235.74 340.41 235.81 340.88 235.88 341.35 235.95 341.82 236.01 342.29 236.07 342.76 236.13 343.24 236.18 343.71 236.23 344.18 236.27 344.65 236.31 345.12 236.34 345.59 236.37 346.06 236.38 346.53 236.40 347.00 236.40 347.50 236.40 348.00 236.38 348.49 236.36 348.99 236.33 349.49 236.30 349.99 236.25 350.49 236.20 350.98 236.14 351.48 236.07 351.98 236.00 352.48 235.92 352.97 235.83 353.47 235.74 353.97 235.64 354.47 235.53 354.97 235.42 355.46 235.30 355.96 235.18 356.46 235.05 356.96 234.91 357.46 234.78 357.95 234.63 358.45 234.48 358.95 234.33 359.45 234.17 359.95 234.01 360.44 233.85 360.94 233.68 361.44 233.51 361.94 233.33 362.43 233.15 362.93 232.97 363.43 232.78 363.93 232.60 364.43 232.41 364.92 232.21 365.42 232.02 365.92 231.82 366.42 231.63 366.92 231.43 367.41 231.23 367.91 231.02 368.41 230.82 368.91 230.62 369.41 230.41 369.90 230.21 370.40 230.00 370.90 229.80 371.40 229.59 371.89 229.39 372.39 229.18 372.89 228.98 373.39 228.78 373.89 228.57 374.38 228.37 374.88 228.17 375.38 227.98 375.88 227.78 376.38 227.59 376.87 227.39 377.37 227.20 377.87 227.02 378.37 226.83 378.87 226.65 379.36 226.47 379.86 226.29 380.36 226.12 380.86 225.95 381.35 225.79 381.85 225.63 382.35 225.47 382.85 225.32 383.35 225.17 383.84 225.02 384.34 224.89 384.84 224.75 385.34 224.62 385.84 224.50 386.33 224.38 386.83 224.27 387.33 224.16 387.83 224.06 388.33 223.97 388.82 223.88 389.32 223.80 389.82 223.73 390.32 223.66 390.81 223.60 391.31 223.55 391.81 223.50 392.31 223.47 392.81 223.44 393.30 223.42 393.80 223.40 394.30 223.40 394.79 223.40 395.29 223.41 395.78 223.43 396.28 223.45 396.77 223.47 397.27 223.51 397.76 223.54 398.26 223.59 398.75 223.63 399.25 223.69 399.74 223.74 400.23 223.81 400.73 223.87 401.22 223.94 401.72 224.02 402.21 224.10 402.71 224.18 403.20 224.27 403.70 224.36 404.19 224.45 404.69 224.55 405.18 224.65 405.68 224.76 406.17 224.87 406.66 224.98 407.16 225.09 407.65 225.21 408.15 225.33 408.64 225.45 409.14 225.57 409.63 225.70 410.13 225.83 410.62 225.96 411.12 226.09 411.61 226.22 412.10 226.35 412.60 226.49 413.09 226.63 413.59 226.76 414.08 226.90 414.58 227.04 415.07 227.18 415.57 227.33 416.06 227.47 416.56 227.61 417.05 227.75 417.54 227.89 418.04 228.03 418.53 228.17 419.03 228.32 419.52 228.46 420.02 228.60 420.51 228.74 421.01 228.87 421.50 229.01 422.00 229.15 422.49 229.28 422.98 229.41 423.48 229.54 423.97 229.67 424.47 229.80 424.96 229.93 425.46 230.05 425.95 230.17 426.45 230.29 426.94 230.41 427.44 230.52 427.93 230.63 428.43 230.74 428.92 230.85 429.41 230.95 429.91 231.05 430.40 231.14 430.90 231.23 431.39 231.32 431.89 231.40 432.38 231.48 432.88 231.56 433.37 231.63 433.87 231.69 434.36 231.76 434.85 231.81 435.35 231.87 435.84 231.91 436.34 231.96 436.83 231.99 437.33 232.03 437.82 232.05 438.32 232.07 438.81 232.09 439.31 232.10 439.80 232.10 440.29 232.10 440.79 232.09 441.28 232.09 441.77 232.08 442.26 232.06 442.76 232.05 443.25 232.03 443.74 232.01 444.23 231.98 444.73 231.95 445.22 231.92 445.71 231.89 446.20 231.86 446.70 231.82 447.19 231.78 447.68 231.73 448.18 231.69 448.67 231.64 449.16 231.59 449.65 231.54 450.15 231.48 450.64 231.42 451.13 231.36 451.62 231.30 452.12 231.23 452.61 231.17 453.10 231.10 453.60 231.02 454.09 230.95 454.58 230.87 455.07 230.80 455.57 230.71 456.06 230.63 456.55 230.55 457.04 230.46 457.54 230.37 458.03 230.28 458.52 230.19 459.01 230.09 459.51 230.00 460.00 229.90" stroke="#18d018" stroke-width="1.75" fill="none" stroke-linejoin="round" clip-path="url(#clipd)"/>
<path d="M274.30 273.50 274.78 275.21 275.26 277.01 275.73 278.87 276.21 280.81 276.69 282.81 277.17 284.88 277.64 287.00 278.12 289.18 278.60 291.40 279.07 293.70 279.54 296.13 280.01 298.66 280.49 301.25 280.96 303.86 281.43 306.45 281.90 309.00 282.37 311.62 282.84 314.38 283.31 317.17 283.79 319.89 284.26 322.42 284.73 324.66 285.20 326.50 285.68 328.12 286.15 329.74 286.62 331.33 287.10 332.86 287.57 334.32 288.05 335.67 288.52 336.88 289.00 337.93 289.47 338.80 289.95 339.45 290.42 339.86 290.90 340.00 291.39 339.89 291.89 339.56 292.38 339.02 292.88 338.29 293.37 337.38 293.87 336.31 294.36 335.07 294.86 333.69 295.35 332.18 295.85 330.54 296.34 328.80 296.84 326.96 297.33 325.04 297.83 323.04 298.32 320.99 298.82 318.88 299.31 316.74 299.81 314.58 300.30 312.40 300.79 310.22 301.29 308.06 301.78 305.92 302.28 303.81 302.77 301.76 303.27 299.76 303.76 297.84 304.26 296.00 304.75 294.26 305.25 292.62 305.74 291.11 306.24 289.73 306.73 288.49 307.23 287.42 307.72 286.51 308.22 285.78 308.71 285.24 309.21 284.91 309.70 284.80 310.20 284.88 310.69 285.12 311.19 285.51 311.69 286.04 312.19 286.71 312.68 287.50 313.18 288.40 313.68 289.41 314.18 290.52 314.67 291.72 315.17 293.00 315.67 294.35 316.17 295.77 316.66 297.24 317.16 298.76 317.66 300.32 318.16 301.90 318.65 303.51 319.15 305.14 319.65 306.76 320.15 308.39 320.64 310.00 321.14 311.58 321.64 313.14 322.14 314.66 322.63 316.13 323.13 317.55 323.63 318.90 324.13 320.18 324.62 321.38 325.12 322.49 325.62 323.50 326.12 324.40 326.61 325.19 327.11 325.86 327.61 326.39 328.11 326.78 328.60 327.02 329.10 327.10 329.59 327.04 330.08 326.88 330.56 326.61 331.05 326.24 331.54 325.77 332.03 325.22 332.52 324.59 333.00 323.88 333.49 323.10 333.98 322.25 334.47 321.34 334.96 320.38 335.45 319.37 335.93 318.31 336.42 317.22 336.91 316.09 337.40 314.93 337.89 313.76 338.37 312.56 338.86 311.36 339.35 310.15 339.84 308.94 340.33 307.74 340.81 306.54 341.30 305.37 341.79 304.21 342.28 303.08 342.77 301.99 343.25 300.93 343.74 299.92 344.23 298.96 344.72 298.05 345.21 297.20 345.70 296.42 346.18 295.71 346.67 295.08 347.16 294.53 347.65 294.06 348.14 293.69 348.62 293.42 349.11 293.26 349.60 293.20 350.10 293.25 350.59 293.41 351.09 293.67 351.58 294.02 352.08 294.46 352.57 294.99 353.06 295.59 353.56 296.26 354.06 297.00 354.55 297.79 355.05 298.65 355.54 299.55 356.04 300.50 356.53 301.48 357.02 302.50 357.52 303.55 358.01 304.62 358.51 305.70 359.00 306.80 359.50 307.90 360.00 309.00 360.49 310.10 360.99 311.18 361.48 312.25 361.98 313.30 362.47 314.32 362.96 315.30 363.46 316.25 363.95 317.15 364.45 318.01 364.94 318.80 365.44 319.54 365.94 320.21 366.43 320.81 366.92 321.34 367.42 321.78 367.91 322.13 368.41 322.39 368.90 322.55 369.40 322.60 369.89 322.55 370.38 322.41 370.87 322.18 371.36 321.87 371.85 321.48 372.34 321.02 372.83 320.49 373.32 319.90 373.81 319.24 374.30 318.54 374.79 317.78 375.28 316.98 375.77 316.15 376.26 315.27 376.75 314.37 377.24 313.45 377.73 312.50 378.22 311.54 378.71 310.57 379.20 309.60 379.69 308.63 380.18 307.66 380.67 306.70 381.16 305.75 381.65 304.83 382.14 303.93 382.63 303.05 383.12 302.22 383.61 301.42 384.10 300.66 384.59 299.96 385.08 299.30 385.57 298.71 386.06 298.18 386.55 297.72 387.04 297.33 387.53 297.02 388.02 296.79 388.51 296.65 389.00 296.60 389.49 296.64 389.99 296.77 390.48 296.97 390.97 297.24 391.46 297.58 391.96 297.99 392.45 298.46 392.94 298.98 393.43 299.56 393.93 300.19 394.42 300.86 394.91 301.56 395.40 302.31 395.90 303.08 396.39 303.89 396.88 304.71 397.38 305.56 397.87 306.42 398.36 307.29 398.85 308.16 399.35 309.04 399.84 309.91 400.33 310.78 400.82 311.64 401.32 312.49 401.81 313.31 402.30 314.12 402.80 314.89 403.29 315.64 403.78 316.34 404.27 317.01 404.77 317.64 405.26 318.22 405.75 318.74 406.24 319.21 406.74 319.62 407.23 319.96 407.72 320.23 408.21 320.43 408.71 320.56 409.20 320.60 409.69 320.56 410.18 320.44 410.67 320.25 411.16 319.98 411.65 319.65 412.14 319.26 412.63 318.81 413.12 318.30 413.61 317.75 414.10 317.15 414.59 316.50 415.08 315.82 415.57 315.11 416.06 314.36 416.55 313.59 417.04 312.79 417.53 311.98 418.02 311.15 418.51 310.32 419.00 309.47 419.50 308.63 419.99 307.78 420.48 306.95 420.97 306.12 421.46 305.31 421.95 304.51 422.44 303.74 422.93 302.99 423.42 302.28 423.91 301.60 424.40 300.95 424.89 300.35 425.38 299.80 425.87 299.29 426.36 298.84 426.85 298.45 427.34 298.12 427.83 297.85 428.32 297.66 428.81 297.54 429.30 297.50 429.79 297.54 430.28 297.66 430.77 297.84 431.26 298.10 431.75 298.42 432.24 298.80 432.73 299.24 433.22 299.73 433.71 300.26 434.20 300.84 434.69 301.47 435.18 302.12 435.67 302.81 436.16 303.53 436.65 304.27 437.14 305.03 437.63 305.81 438.12 306.60 438.61 307.40 439.10 308.20 439.59 309.00 440.08 309.80 440.57 310.59 441.06 311.37 441.55 312.13 442.04 312.87 442.53 313.59 443.02 314.28 443.51 314.93 444.00 315.56 444.49 316.14 444.98 316.67 445.47 317.16 445.96 317.60 446.45 317.98 446.94 318.30 447.43 318.56 447.92 318.74 448.41 318.86 448.90 318.90 449.38 318.87 449.87 318.80 450.35 318.68 450.83 318.51 451.31 318.29 451.80 318.03 452.28 317.72 452.76 317.38 453.24 316.99 453.73 316.56 454.21 316.10 454.69 315.60 455.17 315.06 455.66 314.49 456.14 313.88 456.62 313.25 457.10 312.58 457.59 311.88 458.07 311.16 458.55 310.40 459.03 309.63 459.52 308.82 460.00 308.00" stroke="#d80000" stroke-width="1.75" fill="none" stroke-linejoin="round" clip-path="url(#clipd)"/>
<path d="M504.20 142.70 504.69 141.50 505.18 140.30 505.67 139.10 506.16 137.91 506.65 136.71 507.14 135.51 507.63 134.31 508.12 133.11 508.61 131.91 509.10 130.71 509.59 129.51 510.08 128.31 510.57 127.11 511.06 125.91 511.55 124.71 512.04 123.51 512.53 122.30 513.02 121.10 513.51 119.90 514.00 118.70 514.47 117.54 514.95 116.37 515.42 115.20 515.89 114.03 516.37 112.86 516.84 111.69 517.32 110.52 517.79 109.35 518.26 108.18 518.74 107.01 519.21 105.84 519.68 104.68 520.16 103.51 520.63 102.35 521.11 101.19 521.58 100.04 522.05 98.89 522.53 97.74 523.00 96.60 523.49 95.45 523.98 94.35 524.47 93.27 524.96 92.19 525.44 91.10 525.93 89.98 526.42 88.80 526.91 87.54 527.40 86.20 527.84 84.92 528.27 83.59 528.71 82.18 529.15 80.70 529.59 79.12 530.02 77.46 530.46 75.69 530.90 73.80 531.30 71.93 531.70 69.87 532.10 67.62 532.50 65.17 532.90 62.50 533.23 59.88 533.57 56.91 533.90 54.00 534.23 51.12 534.57 48.29 534.90 46.00 535.32 43.80 535.74 41.87 536.16 40.20 536.58 38.75 537.00 37.50 537.46 36.29 537.91 35.17 538.37 34.13 538.82 33.17 539.28 32.29 539.73 31.47 540.19 30.72 540.64 30.03 541.10 29.40 541.56 28.81 542.02 28.24 542.48 27.71 542.93 27.21 543.39 26.74 543.85 26.29 544.31 25.86 544.77 25.46 545.23 25.07 545.68 24.70 546.14 24.34 546.60 24.00 547.07 23.66 547.54 23.35 548.01 23.05 548.49 22.76 548.96 22.50 549.43 22.24 549.90 22.00 550.38 21.76 550.86 21.54 551.35 21.32 551.83 21.12 552.31 20.92 552.79 20.72 553.27 20.53 553.75 20.35 554.24 20.16 554.72 19.98 555.20 19.80 555.69 19.62 556.18 19.43 556.66 19.25 557.15 19.07 557.64 18.89 558.13 18.72 558.62 18.54 559.11 18.37 559.59 18.20 560.08 18.04 560.57 17.88 561.06 17.72 561.55 17.56 562.04 17.42 562.52 17.27 563.01 17.13 563.50 17.00 563.98 16.87 564.46 16.75 564.94 16.62 565.42 16.50 565.90 16.38 566.38 16.26 566.86 16.14 567.34 16.03 567.82 15.92 568.30 15.81 568.78 15.70 569.26 15.60 569.74 15.50 570.22 15.40 570.70 15.31 571.18 15.22 571.66 15.14 572.14 15.05 572.62 14.97 573.10 14.90 573.60 14.83 574.09 14.75 574.59 14.68 575.09 14.62 575.58 14.55 576.08 14.49 576.58 14.42 577.07 14.36 577.57 14.30 578.07 14.24 578.56 14.19 579.06 14.13 579.56 14.08 580.05 14.02 580.55 13.97 581.04 13.92 581.54 13.87 582.04 13.82 582.53 13.77 583.03 13.72 583.53 13.67 584.02 13.62 584.52 13.58 585.02 13.53 585.51 13.48 586.01 13.44 586.51 13.39 587.00 13.35 587.50 13.30 587.98 13.26 588.46 13.21 588.94 13.17 589.42 13.12 589.90 13.08 590.38 13.04 590.87 12.99 591.35 12.95 591.83 12.91 592.31 12.87 592.79 12.83 593.27 12.79 593.75 12.75 594.23 12.71 594.71 12.67 595.19 12.63 595.67 12.59 596.15 12.56 596.63 12.52 597.12 12.49 597.60 12.45 598.08 12.42 598.56 12.39 599.04 12.36 599.52 12.33 600.00 12.30 600.49 12.27 600.98 12.24 601.48 12.21 601.97 12.19 602.46 12.16 602.95 12.13 603.44 12.11 603.93 12.08 604.43 12.05 604.92 12.03 605.41 12.00 605.90 11.98 606.39 11.95 606.89 11.93 607.38 11.90 607.87 11.88 608.36 11.85 608.85 11.83 609.34 11.81 609.84 11.78 610.33 11.76 610.82 11.74 611.31 11.72 611.80 11.69 612.30 11.67 612.79 11.65 613.28 11.63 613.77 11.61 614.26 11.59 614.75 11.56 615.25 11.54 615.74 11.52 616.23 11.50 616.72 11.48 617.21 11.46 617.70 11.44 618.20 11.42 618.69 11.40 619.18 11.39 619.67 11.37 620.16 11.35 620.66 11.33 621.15 11.31 621.64 11.29 622.13 11.27 622.62 11.26 623.11 11.24 623.61 11.22 624.10 11.20 624.59 11.18 625.08 11.17 625.57 11.15 626.07 11.13 626.56 11.12 627.05 11.10 627.54 11.08 628.03 11.07 628.52 11.05 629.02 11.03 629.51 11.02 630.00 11.00 630.49 10.98 630.98 10.97 631.48 10.95 631.97 10.94 632.46 10.92 632.95 10.91 633.44 10.89 633.93 10.87 634.43 10.86 634.92 10.85 635.41 10.83 635.90 10.82 636.39 10.80 636.89 10.79 637.38 10.77 637.87 10.76 638.36 10.74 638.85 10.73 639.34 10.72 639.84 10.70 640.33 10.69 640.82 10.68 641.31 10.66 641.80 10.65 642.30 10.64 642.79 10.62 643.28 10.61 643.77 10.60 644.26 10.58 644.75 10.57 645.25 10.56 645.74 10.55 646.23 10.53 646.72 10.52 647.21 10.51 647.70 10.50 648.20 10.48 648.69 10.47 649.18 10.46 649.67 10.45 650.16 10.44 650.66 10.42 651.15 10.41 651.64 10.40 652.13 10.39 652.62 10.38 653.11 10.36 653.61 10.35 654.10 10.34 654.59 10.33 655.08 10.32 655.57 10.30 656.07 10.29 656.56 10.28 657.05 10.27 657.54 10.26 658.03 10.25 658.52 10.23 659.02 10.22 659.51 10.21 660.00 10.20 660.50 10.19 660.99 10.18 661.49 10.16 661.98 10.15 662.48 10.14 662.97 10.13 663.47 10.12 663.97 10.11 664.46 10.10 664.96 10.08 665.45 10.07 665.95 10.06 666.44 10.05 666.94 10.04 667.44 10.03 667.93 10.02 668.43 10.01 668.92 10.00 669.42 9.99 669.91 9.97 670.41 9.96 670.91 9.95 671.40 9.94 671.90 9.93 672.39 9.92 672.89 9.91 673.39 9.90 673.88 9.89 674.38 9.88 674.87 9.87 675.37 9.86 675.86 9.85 676.36 9.84 676.86 9.83 677.35 9.82 677.85 9.81 678.34 9.80 678.84 9.79 679.33 9.78 679.83 9.77 680.33 9.76 680.82 9.75 681.32 9.74 681.81 9.73 682.31 9.72 682.80 9.71 683.30 9.70" stroke="#d80000" stroke-width="1.75" fill="none" stroke-linejoin="round" clip-path="url(#clipe)"/>
<path d="M504.20 142.70 504.69 141.48 505.19 140.27 505.68 139.05 506.17 137.83 506.67 136.62 507.16 135.40 507.65 134.18 508.15 132.97 508.64 131.75 509.13 130.53 509.63 129.32 510.12 128.10 510.61 126.88 511.11 125.67 511.60 124.45 512.09 123.23 512.59 122.02 513.08 120.80 513.57 119.58 514.07 118.37 514.56 117.15 515.05 115.93 515.55 114.72 516.04 113.50 516.53 112.28 517.03 111.07 517.52 109.85 518.01 108.63 518.51 107.42 519.00 106.20 519.49 105.02 519.97 103.84 520.46 102.66 520.95 101.48 521.44 100.30 521.92 99.12 522.41 97.94 522.90 96.75 523.38 95.57 523.87 94.39 524.36 93.21 524.85 92.03 525.33 90.85 525.82 89.67 526.31 88.49 526.79 87.31 527.28 86.13 527.77 84.95 528.25 83.77 528.74 82.59 529.23 81.41 529.72 80.23 530.20 79.05 530.69 77.86 531.18 76.68 531.66 75.50 532.15 74.32 532.64 73.14 533.13 71.96 533.61 70.78 534.10 69.60" stroke="#18d018" stroke-width="1.75" fill="none" stroke-linejoin="round" clip-path="url(#clipe)"/>
<path d="M534.10 69.60 534.56 70.23 535.01 70.85 535.47 71.47 535.92 72.08 536.38 72.70 536.83 73.30 537.29 73.91 537.74 74.51 538.20 75.10 538.66 75.70 539.12 76.30 539.58 76.91 540.03 77.52 540.49 78.12 540.95 78.72 541.41 79.31 541.87 79.88 542.33 80.44 542.78 80.98 543.24 81.50 543.70 82.00 544.19 82.51 544.69 83.01 545.18 83.50 545.67 83.97 546.16 84.44 546.66 84.89 547.15 85.33 547.64 85.77 548.14 86.19 548.63 86.61 549.12 87.01 549.61 87.42 550.11 87.81 550.60 88.20 551.09 88.58 551.59 88.96 552.08 89.32 552.57 89.68 553.06 90.04 553.56 90.38 554.05 90.73 554.54 91.06 555.04 91.40 555.53 91.72 556.02 92.05 556.51 92.37 557.01 92.68 557.50 93.00 557.98 93.31 558.46 93.61 558.95 93.92 559.43 94.22 559.91 94.52 560.39 94.82 560.88 95.11 561.36 95.40 561.84 95.69 562.32 95.97 562.81 96.25 563.29 96.52 563.77 96.79 564.25 97.05 564.74 97.31 565.22 97.56 565.70 97.80 566.18 98.04 566.66 98.27 567.14 98.50 567.62 98.73 568.10 98.96 568.58 99.18 569.06 99.40 569.54 99.62 570.02 99.83 570.50 100.04 570.98 100.24 571.46 100.44 571.94 100.64 572.42 100.84 572.90 101.02 573.38 101.21 573.86 101.39 574.34 101.56 574.82 101.73 575.30 101.90 575.78 102.06 576.26 102.22 576.74 102.37 577.22 102.51 577.70 102.66 578.18 102.80 578.66 102.94 579.14 103.07 579.62 103.20 580.10 103.33 580.58 103.46 581.06 103.59 581.54 103.72 582.02 103.84 582.50 103.97 582.98 104.09 583.46 104.22 583.94 104.34 584.42 104.47 584.90 104.60 585.39 104.73 585.87 104.86 586.36 105.00 586.85 105.13 587.34 105.27 587.82 105.40 588.31 105.54 588.80 105.67 589.28 105.80 589.77 105.94 590.26 106.07 590.75 106.21 591.23 106.34 591.72 106.47 592.21 106.60 592.69 106.73 593.18 106.86 593.67 106.99 594.15 107.12 594.64 107.24 595.13 107.37 595.62 107.49 596.10 107.61 596.59 107.73 597.08 107.85 597.56 107.96 598.05 108.08 598.54 108.19 599.03 108.29 599.51 108.40 600.00 108.50 600.49 108.60 600.98 108.70 601.46 108.80 601.95 108.90 602.44 109.00 602.93 109.09 603.41 109.19 603.90 109.28 604.39 109.38 604.88 109.47 605.37 109.56 605.85 109.66 606.34 109.75 606.83 109.84 607.32 109.93 607.80 110.02 608.29 110.10 608.78 110.19 609.27 110.28 609.76 110.36 610.24 110.44 610.73 110.53 611.22 110.61 611.71 110.69 612.20 110.77 612.68 110.85 613.17 110.93 613.66 111.00 614.15 111.08 614.63 111.15 615.12 111.23 615.61 111.30 616.10 111.37 616.59 111.44 617.07 111.51 617.56 111.58 618.05 111.64 618.54 111.71 619.02 111.77 619.51 111.84 620.00 111.90 620.49 111.96 620.98 112.02 621.46 112.08 621.95 112.14 622.44 112.19 622.93 112.25 623.41 112.30 623.90 112.36 624.39 112.41 624.88 112.46 625.37 112.51 625.85 112.56 626.34 112.61 626.83 112.66 627.32 112.71 627.80 112.76 628.29 112.80 628.78 112.85 629.27 112.90 629.76 112.94 630.24 112.99 630.73 113.03 631.22 113.08 631.71 113.12 632.20 113.17 632.68 113.21 633.17 113.26 633.66 113.30 634.15 113.35 634.63 113.39 635.12 113.44 635.61 113.48 636.10 113.53 636.59 113.57 637.07 113.62 637.56 113.66 638.05 113.71 638.54 113.76 639.02 113.80 639.51 113.85 640.00 113.90 640.49 113.95 640.98 114.00 641.46 114.05 641.95 114.09 642.44 114.14 642.93 114.19 643.41 114.24 643.90 114.29 644.39 114.34 644.88 114.39 645.37 114.44 645.85 114.48 646.34 114.53 646.83 114.58 647.32 114.63 647.80 114.68 648.29 114.73 648.78 114.77 649.27 114.82 649.76 114.87 650.24 114.92 650.73 114.97 651.22 115.02 651.71 115.07 652.20 115.12 652.68 115.16 653.17 115.21 653.66 115.26 654.15 115.31 654.63 115.36 655.12 115.41 655.61 115.46 656.10 115.51 656.59 115.56 657.07 115.60 657.56 115.65 658.05 115.70 658.54 115.75 659.02 115.80 659.51 115.85 660.00 115.90 660.50 115.95 660.99 116.00 661.49 116.05 661.98 116.10 662.48 116.15 662.97 116.20 663.47 116.25 663.97 116.30 664.46 116.35 664.96 116.40 665.45 116.46 665.95 116.51 666.44 116.56 666.94 116.61 667.44 116.66 667.93 116.71 668.43 116.76 668.92 116.81 669.42 116.86 669.91 116.91 670.41 116.96 670.91 117.01 671.40 117.07 671.90 117.12 672.39 117.17 672.89 117.22 673.39 117.27 673.88 117.32 674.38 117.37 674.87 117.42 675.37 117.47 675.86 117.53 676.36 117.58 676.86 117.63 677.35 117.68 677.85 117.73 678.34 117.78 678.84 117.83 679.33 117.89 679.83 117.94 680.33 117.99 680.82 118.04 681.32 118.09 681.81 118.14 682.31 118.20 682.80 118.25 683.30 118.30" stroke="#18d018" stroke-width="1.75" fill="none" stroke-linejoin="round" clip-path="url(#clipe)"/>
<path d="M502.60 338.00 503.10 336.81 503.59 335.61 504.09 334.41 504.58 333.20 505.08 331.98 505.57 330.76 506.07 329.53 506.57 328.30 507.06 327.06 507.56 325.81 508.05 324.56 508.55 323.31 509.04 322.05 509.54 320.78 510.03 319.51 510.53 318.23 511.03 316.96 511.52 315.67 512.02 314.39 512.51 313.09 513.01 311.80 513.50 310.50 514.00 309.20 514.45 308.02 514.90 306.85 515.35 305.67 515.80 304.49 516.25 303.30 516.70 302.10 517.15 300.87 517.60 299.61 518.05 298.32 518.50 297.00 518.92 295.73 519.35 294.41 519.78 293.02 520.20 291.50 520.67 289.64 521.13 287.61 521.60 285.43 522.07 283.14 522.53 280.79 523.00 278.40 523.47 276.01 523.93 273.67 524.40 271.40 524.84 269.33 525.27 267.27 525.71 265.22 526.15 263.17 526.59 261.12 527.02 259.06 527.46 256.99 527.90 254.90 528.37 252.69 528.83 250.52 529.30 248.33 529.77 246.08 530.23 243.72 530.70 241.20 531.18 238.29 531.65 235.10 532.12 231.90 532.60 229.00 533.07 226.41 533.53 224.00 534.00 222.00 534.47 220.40 534.93 219.04 535.40 217.90 535.88 216.91 536.35 216.03 536.82 215.26 537.30 214.60 537.74 214.06 538.18 213.56 538.62 213.12 539.06 212.73 539.50 212.40 539.94 212.12 540.38 211.86 540.81 211.63 541.25 211.41 541.69 211.22 542.12 211.03 542.56 210.86 543.00 210.70 543.49 210.53 543.98 210.38 544.46 210.24 544.95 210.10 545.44 209.97 545.92 209.85 546.41 209.72 546.90 209.60 547.36 209.48 547.83 209.36 548.29 209.25 548.75 209.14 549.22 209.02 549.68 208.91 550.15 208.81 550.61 208.70 551.07 208.60 551.54 208.50 552.00 208.40 552.49 208.30 552.98 208.20 553.48 208.10 553.97 208.00 554.46 207.90 554.95 207.80 555.44 207.71 555.93 207.62 556.42 207.53 556.92 207.45 557.41 207.37 557.90 207.30 558.38 207.23 558.86 207.16 559.34 207.10 559.82 207.03 560.30 206.97 560.77 206.91 561.25 206.85 561.73 206.79 562.21 206.73 562.69 206.67 563.17 206.62 563.65 206.56 564.13 206.51 564.61 206.46 565.09 206.41 565.57 206.36 566.05 206.31 566.52 206.26 567.00 206.21 567.48 206.17 567.96 206.12 568.44 206.08 568.92 206.04 569.40 206.00 569.88 205.96 570.36 205.92 570.85 205.88 571.33 205.84 571.81 205.80 572.29 205.77 572.77 205.73 573.25 205.69 573.74 205.66 574.22 205.62 574.70 205.59 575.18 205.56 575.66 205.53 576.15 205.50 576.63 205.47 577.11 205.44 577.59 205.41 578.07 205.39 578.55 205.36 579.04 205.34 579.52 205.32 580.00 205.30 580.49 205.28 580.98 205.26 581.46 205.25 581.95 205.23 582.44 205.21 582.93 205.19 583.41 205.18 583.90 205.16 584.39 205.15 584.88 205.13 585.37 205.12 585.85 205.10 586.34 205.09 586.83 205.07 587.32 205.06 587.80 205.04 588.29 205.03 588.78 205.02 589.27 205.00 589.76 204.99 590.24 204.98 590.73 204.97 591.22 204.96 591.71 204.94 592.20 204.93 592.68 204.92 593.17 204.91 593.66 204.90 594.15 204.89 594.63 204.88 595.12 204.87 595.61 204.87 596.10 204.86 596.59 204.85 597.07 204.84 597.56 204.83 598.05 204.83 598.54 204.82 599.02 204.81 599.51 204.81 600.00 204.80 600.49 204.79 600.99 204.79 601.48 204.78 601.98 204.78 602.47 204.77 602.96 204.77 603.46 204.76 603.95 204.75 604.44 204.75 604.94 204.74 605.43 204.74 605.93 204.73 606.42 204.73 606.91 204.72 607.41 204.72 607.90 204.71 608.40 204.71 608.89 204.71 609.38 204.70 609.88 204.70 610.37 204.69 610.86 204.69 611.36 204.68 611.85 204.68 612.35 204.67 612.84 204.67 613.33 204.67 613.83 204.66 614.32 204.66 614.81 204.66 615.31 204.65 615.80 204.65 616.30 204.64 616.79 204.64 617.28 204.64 617.78 204.63 618.27 204.63 618.77 204.63 619.26 204.62 619.75 204.62 620.25 204.62 620.74 204.61 621.23 204.61 621.73 204.61 622.22 204.60 622.72 204.60 623.21 204.60 623.70 204.59 624.20 204.59 624.69 204.59 625.19 204.58 625.68 204.58 626.17 204.58 626.67 204.58 627.16 204.57 627.65 204.57 628.15 204.57 628.64 204.56 629.14 204.56 629.63 204.56 630.12 204.56 630.62 204.55 631.11 204.55 631.60 204.55 632.10 204.54 632.59 204.54 633.09 204.54 633.58 204.54 634.07 204.53 634.57 204.53 635.06 204.53 635.56 204.53 636.05 204.52 636.54 204.52 637.04 204.52 637.53 204.51 638.02 204.51 638.52 204.51 639.01 204.51 639.51 204.50 640.00 204.50 640.50 204.50 641.00 204.49 641.49 204.49 641.99 204.49 642.49 204.49 642.99 204.48 643.48 204.48 643.98 204.48 644.48 204.47 644.98 204.47 645.47 204.47 645.97 204.47 646.47 204.46 646.97 204.46 647.46 204.46 647.96 204.45 648.46 204.45 648.96 204.45 649.45 204.45 649.95 204.44 650.45 204.44 650.95 204.44 651.45 204.44 651.94 204.43 652.44 204.43 652.94 204.43 653.44 204.43 653.93 204.42 654.43 204.42 654.93 204.42 655.43 204.41 655.92 204.41 656.42 204.41 656.92 204.41 657.42 204.40 657.91 204.40 658.41 204.40 658.91 204.40 659.41 204.39 659.90 204.39 660.40 204.39 660.90 204.39 661.40 204.38 661.90 204.38 662.39 204.38 662.89 204.38 663.39 204.38 663.89 204.37 664.38 204.37 664.88 204.37 665.38 204.37 665.88 204.36 666.37 204.36 666.87 204.36 667.37 204.36 667.87 204.35 668.36 204.35 668.86 204.35 669.36 204.35 669.86 204.35 670.35 204.34 670.85 204.34 671.35 204.34 671.85 204.34 672.35 204.34 672.84 204.33 673.34 204.33 673.84 204.33 674.34 204.33 674.83 204.33 675.33 204.32 675.83 204.32 676.33 204.32 676.82 204.32 677.32 204.32 677.82 204.31 678.32 204.31 678.81 204.31 679.31 204.31 679.81 204.31 680.31 204.31 680.80 204.30 681.30 204.30 681.80 204.30" stroke="#d80000" stroke-width="1.75" fill="none" stroke-linejoin="round" clip-path="url(#clipf)"/>
<path d="M502.60 338.00 503.10 336.72 503.59 335.45 504.09 334.17 504.59 332.89 505.09 331.62 505.58 330.34 506.08 329.07 506.58 327.79 507.08 326.51 507.57 325.24 508.07 323.96 508.57 322.68 509.07 321.41 509.56 320.13 510.06 318.86 510.56 317.58 511.06 316.30 511.55 315.03 512.05 313.75 512.55 312.47 513.04 311.20 513.54 309.92 514.04 308.64 514.54 307.37 515.03 306.09 515.53 304.82 516.03 303.54 516.53 302.26 517.02 300.99 517.52 299.71 518.02 298.43 518.52 297.16 519.01 295.88 519.51 294.61 520.01 293.33 520.51 292.05 521.00 290.78 521.50 289.50 521.99 288.58 522.48 287.66 522.97 286.75 523.46 285.83 523.95 284.91 524.45 283.99 524.94 283.07 525.43 282.15 525.92 281.24 526.41 280.32 526.90 279.40 527.39 278.48 527.88 277.56 528.37 276.65 528.86 275.73 529.35 274.81 529.85 273.89 530.34 272.97 530.83 272.05 531.32 271.14 531.81 270.22 532.30 269.30" stroke="#18d018" stroke-width="1.75" fill="none" stroke-linejoin="round" clip-path="url(#clipf)"/>
<path d="M532.30 269.30 532.75 271.78 533.20 274.12 533.65 276.32 534.10 278.34 534.55 280.18 535.00 281.80 535.45 283.26 535.90 284.60 536.35 285.84 536.80 286.97 537.25 287.99 537.70 288.90 538.19 289.80 538.68 290.63 539.17 291.41 539.66 292.14 540.14 292.83 540.63 293.47 541.12 294.08 541.61 294.65 542.10 295.20 542.58 295.72 543.06 296.22 543.54 296.71 544.02 297.18 544.50 297.64 544.98 298.08 545.46 298.50 545.94 298.91 546.42 299.31 546.90 299.69 547.38 300.06 547.86 300.42 548.34 300.76 548.82 301.08 549.30 301.40 549.79 301.71 550.29 302.02 550.78 302.32 551.28 302.61 551.77 302.89 552.27 303.17 552.76 303.44 553.26 303.70 553.75 303.95 554.24 304.20 554.74 304.44 555.23 304.67 555.73 304.89 556.22 305.11 556.72 305.32 557.21 305.52 557.71 305.71 558.20 305.90 558.69 306.08 559.18 306.26 559.68 306.43 560.17 306.60 560.66 306.76 561.15 306.92 561.64 307.08 562.13 307.24 562.62 307.39 563.12 307.53 563.61 307.68 564.10 307.82 564.59 307.96 565.08 308.09 565.58 308.22 566.07 308.35 566.56 308.48 567.05 308.60 567.54 308.72 568.03 308.84 568.52 308.96 569.02 309.08 569.51 309.19 570.00 309.30 570.48 309.41 570.97 309.51 571.45 309.62 571.94 309.72 572.42 309.83 572.90 309.93 573.39 310.03 573.87 310.13 574.35 310.23 574.84 310.33 575.32 310.42 575.81 310.52 576.29 310.61 576.77 310.70 577.26 310.79 577.74 310.88 578.23 310.97 578.71 311.06 579.19 311.14 579.68 311.22 580.16 311.30 580.65 311.38 581.13 311.46 581.61 311.53 582.10 311.60 582.58 311.68 583.06 311.74 583.55 311.81 584.03 311.88 584.52 311.94 585.00 312.00 585.48 312.06 585.97 312.12 586.45 312.17 586.94 312.23 587.42 312.28 587.90 312.33 588.39 312.38 588.87 312.43 589.35 312.48 589.84 312.53 590.32 312.58 590.81 312.63 591.29 312.67 591.77 312.72 592.26 312.76 592.74 312.80 593.23 312.85 593.71 312.89 594.19 312.93 594.68 312.97 595.16 313.01 595.65 313.05 596.13 313.09 596.61 313.13 597.10 313.17 597.58 313.21 598.06 313.25 598.55 313.28 599.03 313.32 599.52 313.36 600.00 313.40 600.49 313.44 600.98 313.48 601.47 313.52 601.96 313.55 602.45 313.59 602.94 313.63 603.43 313.67 603.92 313.70 604.41 313.74 604.90 313.78 605.39 313.81 605.88 313.85 606.37 313.88 606.86 313.92 607.35 313.95 607.84 313.99 608.33 314.02 608.82 314.06 609.31 314.09 609.80 314.12 610.29 314.16 610.78 314.19 611.27 314.22 611.76 314.26 612.25 314.29 612.75 314.32 613.24 314.36 613.73 314.39 614.22 314.42 614.71 314.45 615.20 314.48 615.69 314.52 616.18 314.55 616.67 314.58 617.16 314.61 617.65 314.64 618.14 314.67 618.63 314.70 619.12 314.74 619.61 314.77 620.10 314.80 620.59 314.83 621.08 314.86 621.57 314.89 622.06 314.92 622.55 314.95 623.04 314.98 623.53 315.01 624.02 315.04 624.51 315.07 625.00 315.10 625.49 315.13 625.98 315.16 626.47 315.19 626.96 315.22 627.45 315.25 627.94 315.28 628.43 315.31 628.92 315.34 629.41 315.36 629.90 315.39 630.39 315.42 630.88 315.45 631.37 315.48 631.86 315.51 632.35 315.53 632.84 315.56 633.33 315.59 633.82 315.62 634.31 315.65 634.80 315.67 635.29 315.70 635.78 315.73 636.27 315.76 636.76 315.78 637.25 315.81 637.75 315.84 638.24 315.86 638.73 315.89 639.22 315.92 639.71 315.94 640.20 315.97 640.69 316.00 641.18 316.02 641.67 316.05 642.16 316.08 642.65 316.10 643.14 316.13 643.63 316.16 644.12 316.18 644.61 316.21 645.10 316.24 645.59 316.26 646.08 316.29 646.57 316.32 647.06 316.34 647.55 316.37 648.04 316.39 648.53 316.42 649.02 316.45 649.51 316.47 650.00 316.50 650.49 316.53 650.98 316.55 651.47 316.58 651.96 316.60 652.45 316.63 652.94 316.66 653.43 316.68 653.92 316.71 654.41 316.73 654.90 316.76 655.39 316.78 655.88 316.81 656.37 316.83 656.86 316.86 657.35 316.88 657.84 316.91 658.33 316.93 658.82 316.96 659.31 316.98 659.80 317.01 660.29 317.03 660.78 317.06 661.27 317.08 661.76 317.11 662.25 317.13 662.75 317.16 663.24 317.18 663.73 317.21 664.22 317.23 664.71 317.26 665.20 317.28 665.69 317.31 666.18 317.33 666.67 317.36 667.16 317.38 667.65 317.41 668.14 317.43 668.63 317.46 669.12 317.48 669.61 317.51 670.10 317.53 670.59 317.56 671.08 317.59 671.57 317.61 672.06 317.64 672.55 317.67 673.04 317.69 673.53 317.72 674.02 317.75 674.51 317.77 675.00 317.80 675.49 317.83 675.97 317.85 676.46 317.88 676.94 317.91 677.43 317.94 677.91 317.97 678.40 318.00 678.89 318.03 679.37 318.05 679.86 318.08 680.34 318.11 680.83 318.14 681.31 318.17 681.80 318.20" stroke="#18d018" stroke-width="1.75" fill="none" stroke-linejoin="round" clip-path="url(#clipf)"/>
<circle cx="534.3" cy="141.6" r="3.5" fill="#3838ff" clip-path="url(#clipe)"/>
<circle cx="532.6" cy="337.0" r="3.8" fill="#3838ff" clip-path="url(#clipf)"/>
<path d="M560.3 120.8L538 134.1M539.9 128.5L538 134.1L543.6 135.3" stroke="#3838ff" stroke-width="1.7" fill="none" stroke-linecap="round" stroke-linejoin="round"/>
<path d="M550.4 320L536.4 329.9M537.7 324.3L536.4 329.9L541.8 329.9" stroke="#3838ff" stroke-width="1.7" fill="none" stroke-linecap="round" stroke-linejoin="round"/>
<text x="46.80" y="14.80" font-size="10.8" font-weight="bold" textLength="19.20" lengthAdjust="spacingAndGlyphs">( a )</text>
<text x="49.90" y="209.10" font-size="10.8" font-weight="bold" textLength="19.30" lengthAdjust="spacingAndGlyphs">( b )</text>
<text x="281.30" y="16.90" font-size="10.8" font-weight="bold" textLength="18.00" lengthAdjust="spacingAndGlyphs">( c )</text>
<text x="280.70" y="208.80" font-size="10.8" font-weight="bold" textLength="19.60" lengthAdjust="spacingAndGlyphs">( d )</text>
<text x="509.70" y="12.60" font-size="10.8" font-weight="bold" textLength="17.80" lengthAdjust="spacingAndGlyphs">( e )</text>
<text x="510.90" y="210.40" font-size="10.8" font-weight="bold" textLength="17.40" lengthAdjust="spacingAndGlyphs">( f )</text>
<text x="84.70" y="33.70" font-size="12.3" class="reg" textLength="37.80" lengthAdjust="spacingAndGlyphs">&#948; <tspan dy="1.2">=</tspan><tspan dy="-1.2"> 1 . 0</tspan></text>
<text x="83.00" y="228.00" font-size="12.3" class="reg" textLength="36.20" lengthAdjust="spacingAndGlyphs">&#948; <tspan dy="1.2">=</tspan><tspan dy="-1.2"> 0 . 5</tspan></text>
<text x="319.00" y="25.50" font-size="12.3" class="reg" textLength="36.40" lengthAdjust="spacingAndGlyphs">&#948; <tspan dy="1.2">=</tspan><tspan dy="-1.2"> 1 . 0</tspan></text>
<text x="325.80" y="215.10" font-size="12.3" class="reg" textLength="36.10" lengthAdjust="spacingAndGlyphs">&#948; <tspan dy="1.2">=</tspan><tspan dy="-1.2"> 0 . 5</tspan></text>
<text x="560.70" y="71.00" font-size="12.3" class="reg" textLength="35.30" lengthAdjust="spacingAndGlyphs">&#948; <tspan dy="1.2">=</tspan><tspan dy="-1.2"> 1 . 0</tspan></text>
<text x="557.20" y="280.30" font-size="12.3" class="reg" textLength="34.90" lengthAdjust="spacingAndGlyphs">&#948; <tspan dy="1.2">=</tspan><tspan dy="-1.2"> 0 . 5</tspan></text>
<text x="158.30" y="33.00" font-size="10.8" font-weight="bold">h</text>
<text x="164.50" y="35.70" font-size="6.8" font-weight="bold">i</text>
<text x="168.80" y="33.00" font-size="11.8" font-weight="bold" textLength="31.10" lengthAdjust="spacingAndGlyphs"><tspan dy="0.6">=</tspan><tspan dy="-0.6"> 0 . 5</tspan></text>
<text x="153.30" y="226.60" font-size="10.8" font-weight="bold">h</text>
<text x="159.50" y="229.30" font-size="6.8" font-weight="bold">i</text>
<text x="163.80" y="226.60" font-size="11.8" font-weight="bold" textLength="29.50" lengthAdjust="spacingAndGlyphs"><tspan dy="0.6">=</tspan><tspan dy="-0.6"> 0 . 5</tspan></text>
<text x="391.60" y="24.70" font-size="10.8" font-weight="bold">h</text>
<text x="397.80" y="27.40" font-size="6.8" font-weight="bold">i</text>
<text x="402.10" y="24.70" font-size="11.8" font-weight="bold" textLength="28.90" lengthAdjust="spacingAndGlyphs"><tspan dy="0.6">=</tspan><tspan dy="-0.6"> 0 . 5</tspan></text>
<text x="389.90" y="213.40" font-size="10.8" font-weight="bold">h</text>
<text x="396.10" y="216.10" font-size="6.8" font-weight="bold">i</text>
<text x="400.40" y="213.40" font-size="11.8" font-weight="bold" textLength="30.30" lengthAdjust="spacingAndGlyphs"><tspan dy="0.6">=</tspan><tspan dy="-0.6"> 0 . 5</tspan></text>
<text x="621.50" y="71.60" font-size="10.8" font-weight="bold">h</text>
<text x="627.70" y="74.30" font-size="6.8" font-weight="bold">i</text>
<text x="632.00" y="71.60" font-size="11.8" font-weight="bold" textLength="28.30" lengthAdjust="spacingAndGlyphs"><tspan dy="0.6">=</tspan><tspan dy="-0.6"> 0 . 2</tspan></text>
<text x="620.60" y="280.30" font-size="10.8" font-weight="bold">h</text>
<text x="626.80" y="283.00" font-size="6.8" font-weight="bold">i</text>
<text x="631.10" y="280.30" font-size="11.8" font-weight="bold" textLength="28.60" lengthAdjust="spacingAndGlyphs"><tspan dy="0.6">=</tspan><tspan dy="-0.6"> 0 . 2</tspan></text>
<path d="M134.60 112.40H174.00" stroke="#d80000" stroke-width="1.75" fill="none"/>
<text x="180.60" y="115.40" font-size="8.8" font-weight="bold">h</text>
<text x="185.20" y="118.40" font-size="6.6" font-weight="bold">fl</text>
<text x="191.60" y="115.40" font-size="8.8" font-weight="bold" textLength="23.40" lengthAdjust="spacingAndGlyphs">= 2 . 0</text>
<path d="M134.60 122.60H174.00" stroke="#18d018" stroke-width="1.75" fill="none"/>
<text x="180.60" y="125.60" font-size="8.8" font-weight="bold">h</text>
<text x="185.20" y="128.60" font-size="6.6" font-weight="bold">fl</text>
<text x="191.60" y="125.60" font-size="8.8" font-weight="bold" textLength="23.40" lengthAdjust="spacingAndGlyphs">= 3 . 0</text>
<path d="M134.60 132.80H174.00" stroke="#3838ff" stroke-width="1.75" fill="none"/>
<text x="180.60" y="135.80" font-size="8.8" font-weight="bold">h</text>
<text x="185.20" y="138.80" font-size="6.6" font-weight="bold">fl</text>
<text x="191.60" y="135.80" font-size="8.8" font-weight="bold" textLength="23.40" lengthAdjust="spacingAndGlyphs">= 4 . 0</text>
<path d="M130.80 304.90H168.50" stroke="#d80000" stroke-width="1.75" fill="none"/>
<text x="174.90" y="307.90" font-size="8.8" font-weight="bold">h</text>
<text x="179.50" y="310.90" font-size="6.6" font-weight="bold">fl</text>
<text x="185.90" y="307.90" font-size="8.8" font-weight="bold" textLength="22.30" lengthAdjust="spacingAndGlyphs">= 2 . 0</text>
<path d="M130.80 315.00H168.50" stroke="#18d018" stroke-width="1.75" fill="none"/>
<text x="174.90" y="318.00" font-size="8.8" font-weight="bold">h</text>
<text x="179.50" y="321.00" font-size="6.6" font-weight="bold">fl</text>
<text x="185.90" y="318.00" font-size="8.8" font-weight="bold" textLength="22.30" lengthAdjust="spacingAndGlyphs">= 3 . 0</text>
<path d="M130.80 325.10H168.50" stroke="#3838ff" stroke-width="1.75" fill="none"/>
<text x="174.90" y="328.10" font-size="8.8" font-weight="bold">h</text>
<text x="179.50" y="331.10" font-size="6.6" font-weight="bold">fl</text>
<text x="185.90" y="328.10" font-size="8.8" font-weight="bold" textLength="22.30" lengthAdjust="spacingAndGlyphs">= 4 . 0</text>
<path d="M320.10 63.60H357.50" stroke="#d80000" stroke-width="1.75" fill="none"/>
<text x="364.10" y="66.60" font-size="8.8" font-weight="bold">h</text>
<text x="368.70" y="69.60" font-size="6.6" font-weight="bold">fl</text>
<text x="375.10" y="66.60" font-size="8.8" font-weight="bold" textLength="21.70" lengthAdjust="spacingAndGlyphs">= 0 . 2</text>
<path d="M320.10 73.80H357.50" stroke="#18d018" stroke-width="1.75" fill="none"/>
<text x="364.10" y="76.80" font-size="8.8" font-weight="bold">h</text>
<text x="368.70" y="79.80" font-size="6.6" font-weight="bold">fl</text>
<text x="375.10" y="76.80" font-size="8.8" font-weight="bold" textLength="21.70" lengthAdjust="spacingAndGlyphs">= 0 . 8</text>
<path d="M320.10 83.60H357.50" stroke="#000" stroke-width="1.6" stroke-dasharray="3.7 3.75" stroke-dashoffset="0" fill="none"/>
<text x="364.10" y="86.40" font-size="9.0" font-weight="bold" textLength="86.90" lengthAdjust="spacingAndGlyphs">zero-temperature at t = 0</text>
<path d="M321.10 256.20H359.60" stroke="#d80000" stroke-width="1.75" fill="none"/>
<text x="366.10" y="259.20" font-size="8.8" font-weight="bold">h</text>
<text x="370.70" y="262.20" font-size="6.6" font-weight="bold">fl</text>
<text x="377.10" y="259.20" font-size="8.8" font-weight="bold" textLength="21.70" lengthAdjust="spacingAndGlyphs">= 0 . 2</text>
<path d="M321.10 266.50H359.60" stroke="#18d018" stroke-width="1.75" fill="none"/>
<text x="366.10" y="269.50" font-size="8.8" font-weight="bold">h</text>
<text x="370.70" y="272.50" font-size="6.6" font-weight="bold">fl</text>
<text x="377.10" y="269.50" font-size="8.8" font-weight="bold" textLength="21.70" lengthAdjust="spacingAndGlyphs">= 0 . 8</text>
<path d="M321.10 276.70H359.60" stroke="#000" stroke-width="1.6" stroke-dasharray="3.7 3.75" stroke-dashoffset="0" fill="none"/>
<text x="366.10" y="279.50" font-size="9.0" font-weight="bold" textLength="88.00" lengthAdjust="spacingAndGlyphs">zero-temperature at t = 0</text>
<path d="M552.80 33.90H589.40" stroke="#d80000" stroke-width="1.75" fill="none"/>
<text x="596.00" y="36.90" font-size="9.0" font-weight="bold" textLength="84.10" lengthAdjust="spacingAndGlyphs">zero-temperature at t = 0</text>
<path d="M552.80 43.80H589.40" stroke="#18d018" stroke-width="1.75" fill="none"/>
<text x="596.00" y="46.80" font-size="9.0" font-weight="bold" textLength="53.70" lengthAdjust="spacingAndGlyphs">long-time value</text>
<path d="M543.10 228.00H580.00" stroke="#d80000" stroke-width="1.75" fill="none"/>
<text x="586.40" y="231.10" font-size="9.0" font-weight="bold" textLength="84.90" lengthAdjust="spacingAndGlyphs">zero-temperature at t = 0</text>
<path d="M543.10 237.80H580.00" stroke="#18d018" stroke-width="1.75" fill="none"/>
<text x="586.40" y="240.90" font-size="9.0" font-weight="bold" textLength="54.20" lengthAdjust="spacingAndGlyphs">long-time value</text>
<text x="562.10" y="118.60" font-size="9.8" font-weight="bold" style="fill:#3838ff;stroke:#3838ff">h</text>
<text x="566.90" y="121.30" font-size="6.5" font-weight="bold" style="fill:#3838ff;stroke:#3838ff">c</text>
<text x="552.90" y="320.00" font-size="9.8" font-weight="bold" style="fill:#3838ff;stroke:#3838ff">h</text>
<text x="557.80" y="323.90" font-size="6.5" font-weight="bold" style="fill:#3838ff;stroke:#3838ff">c</text>
<text x="131.80" y="171.30" font-size="13.5" font-weight="bold">t</text>
<text x="130.20" y="361.10" font-size="13.0" font-weight="bold">t</text>
<text x="362.80" y="168.20" font-size="13.5" font-weight="bold">t</text>
<text x="365.50" y="363.60" font-size="13.5" font-weight="bold">t</text>
<text x="587.20" y="162.90" font-size="12.8" font-weight="bold">h</text>
<text x="593.80" y="166.30" font-size="8.6" font-weight="bold">fl</text>
<text x="586.10" y="358.80" font-size="12.8" font-weight="bold">h</text>
<text x="592.70" y="362.20" font-size="8.6" font-weight="bold">fl</text>
<text transform="translate(9.00,84.60) rotate(-90)" font-size="14" font-weight="bold">M<tspan font-size="9.0" dy="4.2">z</tspan></text>
<text transform="translate(11.70,277.80) rotate(-90)" font-size="14" font-weight="bold">M<tspan font-size="9.0" dy="4.2">z</tspan></text>
<text transform="translate(244.60,84.20) rotate(-90)" font-size="14" font-weight="bold">M<tspan font-size="9.0" dy="4.2">z</tspan></text>
<text transform="translate(245.20,278.30) rotate(-90)" font-size="14" font-weight="bold">M<tspan font-size="9.0" dy="4.2">z</tspan></text>
<text transform="translate(476.40,80.80) rotate(-90)" font-size="13" font-weight="bold">M<tspan font-size="8.3" dy="4.2">z</tspan></text>
<text transform="translate(474.50,276.10) rotate(-90)" font-size="13" font-weight="bold">M<tspan font-size="8.3" dy="4.2">z</tspan></text>
<path d="M39.30 144.87H42.50M39.30 138.94H42.50M39.30 133.00H42.50M39.30 127.07H42.50M39.30 121.14H44.50M39.30 115.21H42.50M39.30 109.28H42.50M39.30 103.34H42.50M39.30 97.41H42.50M39.30 91.48H44.50M39.30 85.55H42.50M39.30 79.62H42.50M39.30 73.68H42.50M39.30 67.75H42.50M39.30 61.82H44.50M39.30 55.89H42.50M39.30 49.96H42.50M39.30 44.02H42.50M39.30 38.09H42.50M39.30 32.16H44.50M39.30 26.23H42.50M39.30 20.30H42.50M39.30 14.36H42.50M39.30 8.43H42.50M48.75 150.80V147.60M58.20 150.80V147.60M67.65 150.80V147.60M77.10 150.80V147.60M86.55 150.80V145.60M96.00 150.80V147.60M105.45 150.80V147.60M114.90 150.80V147.60M124.35 150.80V147.60M133.80 150.80V145.60M143.25 150.80V147.60M152.70 150.80V147.60M162.15 150.80V147.60M171.60 150.80V147.60M181.05 150.80V145.60M190.50 150.80V147.60M199.95 150.80V147.60M209.40 150.80V147.60M218.85 150.80V147.60" stroke="#000" stroke-width="1.6" fill="none"/>
<rect x="39.30" y="2.70" width="189.00" height="148.10" stroke="#000" stroke-width="1.5" fill="none"/>
<text x="34.30" y="153.70" class="yl" textLength="10.10" lengthAdjust="spacingAndGlyphs">0.2</text>
<text x="34.30" y="124.04" class="yl" textLength="10.10" lengthAdjust="spacingAndGlyphs">0.3</text>
<text x="34.30" y="94.38" class="yl" textLength="10.10" lengthAdjust="spacingAndGlyphs">0.4</text>
<text x="34.30" y="64.72" class="yl" textLength="10.10" lengthAdjust="spacingAndGlyphs">0.5</text>
<text x="34.30" y="35.06" class="yl" textLength="10.10" lengthAdjust="spacingAndGlyphs">0.6</text>
<text x="34.30" y="5.40" class="yl" textLength="10.10" lengthAdjust="spacingAndGlyphs">0.7</text>
<text x="37.50" y="160.10" class="xl" textLength="3.60" lengthAdjust="spacingAndGlyphs">0</text>
<text x="84.75" y="160.10" class="xl" textLength="3.60" lengthAdjust="spacingAndGlyphs">2</text>
<text x="132.00" y="160.10" class="xl" textLength="3.60" lengthAdjust="spacingAndGlyphs">4</text>
<text x="179.25" y="160.10" class="xl" textLength="3.60" lengthAdjust="spacingAndGlyphs">6</text>
<text x="226.50" y="160.10" class="xl" textLength="3.60" lengthAdjust="spacingAndGlyphs">8</text>
<path d="M40.50 335.68H43.70M40.50 329.96H43.70M40.50 324.24H43.70M40.50 318.52H43.70M40.50 312.80H45.70M40.50 307.08H43.70M40.50 301.36H43.70M40.50 295.64H43.70M40.50 289.92H43.70M40.50 284.20H45.70M40.50 278.48H43.70M40.50 272.76H43.70M40.50 267.04H43.70M40.50 261.32H43.70M40.50 255.60H45.70M40.50 249.88H43.70M40.50 244.16H43.70M40.50 238.44H43.70M40.50 232.72H43.70M40.50 227.00H45.70M40.50 221.28H43.70M40.50 215.56H43.70M40.50 209.84H43.70M40.50 204.12H43.70M49.61 341.40V338.20M58.71 341.40V338.20M67.81 341.40V338.20M76.92 341.40V338.20M86.03 341.40V336.20M95.13 341.40V338.20M104.24 341.40V338.20M113.34 341.40V338.20M122.44 341.40V338.20M131.55 341.40V336.20M140.66 341.40V338.20M149.76 341.40V338.20M158.87 341.40V338.20M167.97 341.40V338.20M177.07 341.40V336.20M186.18 341.40V338.20M195.29 341.40V338.20M204.39 341.40V338.20M213.50 341.40V338.20" stroke="#000" stroke-width="1.6" fill="none"/>
<rect x="40.50" y="198.40" width="182.10" height="143.00" stroke="#000" stroke-width="1.5" fill="none"/>
<text x="35.50" y="344.30" class="yl" textLength="13.70" lengthAdjust="spacingAndGlyphs">0.25</text>
<text x="35.50" y="315.70" class="yl" textLength="10.10" lengthAdjust="spacingAndGlyphs">0.3</text>
<text x="35.50" y="287.10" class="yl" textLength="13.70" lengthAdjust="spacingAndGlyphs">0.35</text>
<text x="35.50" y="258.50" class="yl" textLength="10.10" lengthAdjust="spacingAndGlyphs">0.4</text>
<text x="35.50" y="229.90" class="yl" textLength="13.70" lengthAdjust="spacingAndGlyphs">0.45</text>
<text x="35.50" y="201.30" class="yl" textLength="10.10" lengthAdjust="spacingAndGlyphs">0.5</text>
<text x="38.70" y="350.70" class="xl" textLength="3.60" lengthAdjust="spacingAndGlyphs">0</text>
<text x="84.23" y="350.70" class="xl" textLength="3.60" lengthAdjust="spacingAndGlyphs">2</text>
<text x="129.75" y="350.70" class="xl" textLength="3.60" lengthAdjust="spacingAndGlyphs">4</text>
<text x="175.27" y="350.70" class="xl" textLength="3.60" lengthAdjust="spacingAndGlyphs">6</text>
<text x="220.80" y="350.70" class="xl" textLength="3.60" lengthAdjust="spacingAndGlyphs">8</text>
<path d="M273.40 146.00H276.60M273.40 141.60H276.60M273.40 137.20H278.60M273.40 132.80H276.60M273.40 128.40H276.60M273.40 124.00H276.60M273.40 119.60H276.60M273.40 115.20H278.60M273.40 110.80H276.60M273.40 106.40H276.60M273.40 102.00H276.60M273.40 97.60H276.60M273.40 93.20H278.60M273.40 88.80H276.60M273.40 84.40H276.60M273.40 80.00H276.60M273.40 75.60H276.60M273.40 71.20H278.60M273.40 66.80H276.60M273.40 62.40H276.60M273.40 58.00H276.60M273.40 53.60H276.60M273.40 49.20H278.60M273.40 44.80H276.60M273.40 40.40H276.60M273.40 36.00H276.60M273.40 31.60H276.60M273.40 27.20H278.60M273.40 22.80H276.60M273.40 18.40H276.60M273.40 14.00H276.60M273.40 9.60H276.60M285.58 147.90V144.70M297.76 147.90V144.70M309.94 147.90V144.70M322.12 147.90V144.70M334.30 147.90V142.70M346.48 147.90V144.70M358.66 147.90V144.70M370.84 147.90V144.70M383.02 147.90V144.70M395.20 147.90V142.70M407.38 147.90V144.70M419.56 147.90V144.70M431.74 147.90V144.70M443.92 147.90V144.70" stroke="#000" stroke-width="1.6" fill="none"/>
<rect x="273.40" y="5.20" width="182.70" height="142.70" stroke="#000" stroke-width="1.5" fill="none"/>
<text x="268.40" y="140.10" class="yl" textLength="3.60" lengthAdjust="spacingAndGlyphs">0</text>
<text x="268.40" y="118.10" class="yl" textLength="10.10" lengthAdjust="spacingAndGlyphs">0.1</text>
<text x="268.40" y="96.10" class="yl" textLength="10.10" lengthAdjust="spacingAndGlyphs">0.2</text>
<text x="268.40" y="74.10" class="yl" textLength="10.10" lengthAdjust="spacingAndGlyphs">0.3</text>
<text x="268.40" y="52.10" class="yl" textLength="10.10" lengthAdjust="spacingAndGlyphs">0.4</text>
<text x="268.40" y="30.10" class="yl" textLength="10.10" lengthAdjust="spacingAndGlyphs">0.5</text>
<text x="268.40" y="8.10" class="yl" textLength="10.10" lengthAdjust="spacingAndGlyphs">0.6</text>
<text x="271.60" y="157.20" class="xl" textLength="3.60" lengthAdjust="spacingAndGlyphs">0</text>
<text x="332.50" y="157.20" class="xl" textLength="3.60" lengthAdjust="spacingAndGlyphs">5</text>
<text x="391.60" y="157.20" class="xl" textLength="7.20" lengthAdjust="spacingAndGlyphs">10</text>
<text x="452.50" y="157.20" class="xl" textLength="7.20" lengthAdjust="spacingAndGlyphs">15</text>
<path d="M274.30 341.58H277.50M274.30 337.30H279.50M274.30 333.02H277.50M274.30 328.73H277.50M274.30 324.45H277.50M274.30 320.17H277.50M274.30 315.88H279.50M274.30 311.60H277.50M274.30 307.32H277.50M274.30 303.03H277.50M274.30 298.75H277.50M274.30 294.47H279.50M274.30 290.18H277.50M274.30 285.90H277.50M274.30 281.62H277.50M274.30 277.33H277.50M274.30 273.05H279.50M274.30 268.77H277.50M274.30 264.48H277.50M274.30 260.20H277.50M274.30 255.92H277.50M274.30 251.63H279.50M274.30 247.35H277.50M274.30 243.07H277.50M274.30 238.78H277.50M274.30 234.50H277.50M274.30 230.22H279.50M274.30 225.93H277.50M274.30 221.65H277.50M274.30 217.37H277.50M274.30 213.08H277.50M274.30 208.80H279.50M274.30 204.52H277.50M274.30 200.23H277.50M286.68 343.40V340.20M299.06 343.40V340.20M311.44 343.40V340.20M323.82 343.40V340.20M336.20 343.40V338.20M348.58 343.40V340.20M360.96 343.40V340.20M373.34 343.40V340.20M385.72 343.40V340.20M398.10 343.40V338.20M410.48 343.40V340.20M422.86 343.40V340.20M435.24 343.40V340.20M447.62 343.40V340.20" stroke="#000" stroke-width="1.6" fill="none"/>
<rect x="274.30" y="198.00" width="185.70" height="145.40" stroke="#000" stroke-width="1.5" fill="none"/>
<text x="269.30" y="340.20" class="yl" textLength="3.60" lengthAdjust="spacingAndGlyphs">0</text>
<text x="269.30" y="318.78" class="yl" textLength="10.10" lengthAdjust="spacingAndGlyphs">0.1</text>
<text x="269.30" y="297.37" class="yl" textLength="10.10" lengthAdjust="spacingAndGlyphs">0.2</text>
<text x="269.30" y="275.95" class="yl" textLength="10.10" lengthAdjust="spacingAndGlyphs">0.3</text>
<text x="269.30" y="254.53" class="yl" textLength="10.10" lengthAdjust="spacingAndGlyphs">0.4</text>
<text x="269.30" y="233.12" class="yl" textLength="10.10" lengthAdjust="spacingAndGlyphs">0.5</text>
<text x="269.30" y="211.70" class="yl" textLength="10.10" lengthAdjust="spacingAndGlyphs">0.6</text>
<text x="272.50" y="352.70" class="xl" textLength="3.60" lengthAdjust="spacingAndGlyphs">0</text>
<text x="334.40" y="352.70" class="xl" textLength="3.60" lengthAdjust="spacingAndGlyphs">5</text>
<text x="394.50" y="352.70" class="xl" textLength="7.20" lengthAdjust="spacingAndGlyphs">10</text>
<text x="456.40" y="352.70" class="xl" textLength="7.20" lengthAdjust="spacingAndGlyphs">15</text>
<path d="M504.20 142.70H509.40M504.20 137.38H507.40M504.20 132.06H507.40M504.20 126.74H507.40M504.20 121.42H507.40M504.20 116.10H509.40M504.20 110.78H507.40M504.20 105.46H507.40M504.20 100.14H507.40M504.20 94.82H507.40M504.20 89.50H509.40M504.20 84.18H507.40M504.20 78.86H507.40M504.20 73.54H507.40M504.20 68.22H507.40M504.20 62.90H509.40M504.20 57.58H507.40M504.20 52.26H507.40M504.20 46.94H507.40M504.20 41.62H507.40M504.20 36.30H509.40M504.20 30.98H507.40M504.20 25.66H507.40M504.20 20.34H507.40M504.20 15.02H507.40M504.20 9.70H509.40M504.20 4.38H507.40M510.17 143.20V140.00M516.14 143.20V140.00M522.11 143.20V140.00M528.08 143.20V140.00M534.05 143.20V138.00M540.02 143.20V140.00M545.99 143.20V140.00M551.96 143.20V140.00M557.93 143.20V140.00M563.90 143.20V138.00M569.87 143.20V140.00M575.84 143.20V140.00M581.81 143.20V140.00M587.78 143.20V140.00M593.75 143.20V138.00M599.72 143.20V140.00M605.69 143.20V140.00M611.66 143.20V140.00M617.63 143.20V140.00M623.60 143.20V138.00M629.57 143.20V140.00M635.54 143.20V140.00M641.51 143.20V140.00M647.48 143.20V140.00M653.45 143.20V138.00M659.42 143.20V140.00M665.39 143.20V140.00M671.36 143.20V140.00M677.33 143.20V140.00" stroke="#000" stroke-width="1.6" fill="none"/>
<rect x="504.20" y="2.50" width="179.10" height="140.70" stroke="#000" stroke-width="1.5" fill="none"/>
<text x="499.20" y="145.60" class="yl" textLength="3.60" lengthAdjust="spacingAndGlyphs">0</text>
<text x="499.20" y="119.00" class="yl" textLength="10.10" lengthAdjust="spacingAndGlyphs">0.2</text>
<text x="499.20" y="92.40" class="yl" textLength="10.10" lengthAdjust="spacingAndGlyphs">0.4</text>
<text x="499.20" y="65.80" class="yl" textLength="10.10" lengthAdjust="spacingAndGlyphs">0.6</text>
<text x="499.20" y="39.20" class="yl" textLength="10.10" lengthAdjust="spacingAndGlyphs">0.8</text>
<text x="499.20" y="12.60" class="yl" textLength="3.60" lengthAdjust="spacingAndGlyphs">1</text>
<text x="502.40" y="152.50" class="xl" textLength="3.60" lengthAdjust="spacingAndGlyphs">0</text>
<text x="532.25" y="152.50" class="xl" textLength="3.60" lengthAdjust="spacingAndGlyphs">1</text>
<text x="562.10" y="152.50" class="xl" textLength="3.60" lengthAdjust="spacingAndGlyphs">2</text>
<text x="591.95" y="152.50" class="xl" textLength="3.60" lengthAdjust="spacingAndGlyphs">3</text>
<text x="621.80" y="152.50" class="xl" textLength="3.60" lengthAdjust="spacingAndGlyphs">4</text>
<text x="651.65" y="152.50" class="xl" textLength="3.60" lengthAdjust="spacingAndGlyphs">5</text>
<text x="681.50" y="152.50" class="xl" textLength="3.60" lengthAdjust="spacingAndGlyphs">6</text>
<path d="M502.80 337.90H508.00M502.80 332.60H506.00M502.80 327.31H506.00M502.80 322.01H506.00M502.80 316.72H506.00M502.80 311.42H508.00M502.80 306.12H506.00M502.80 300.83H506.00M502.80 295.53H506.00M502.80 290.24H506.00M502.80 284.94H508.00M502.80 279.64H506.00M502.80 274.35H506.00M502.80 269.05H506.00M502.80 263.76H506.00M502.80 258.46H508.00M502.80 253.16H506.00M502.80 247.87H506.00M502.80 242.57H506.00M502.80 237.28H506.00M502.80 231.98H508.00M502.80 226.68H506.00M502.80 221.39H506.00M502.80 216.09H506.00M502.80 210.80H506.00M502.80 205.50H508.00M502.80 200.20H506.00M508.77 338.50V335.30M514.73 338.50V335.30M520.70 338.50V335.30M526.67 338.50V335.30M532.63 338.50V333.30M538.60 338.50V335.30M544.57 338.50V335.30M550.53 338.50V335.30M556.50 338.50V335.30M562.47 338.50V333.30M568.43 338.50V335.30M574.40 338.50V335.30M580.37 338.50V335.30M586.33 338.50V335.30M592.30 338.50V333.30M598.27 338.50V335.30M604.23 338.50V335.30M610.20 338.50V335.30M616.17 338.50V335.30M622.13 338.50V333.30M628.10 338.50V335.30M634.07 338.50V335.30M640.03 338.50V335.30M646.00 338.50V335.30M651.97 338.50V333.30M657.93 338.50V335.30M663.90 338.50V335.30M669.87 338.50V335.30M675.83 338.50V335.30" stroke="#000" stroke-width="1.6" fill="none"/>
<rect x="502.80" y="198.10" width="179.00" height="140.40" stroke="#000" stroke-width="1.5" fill="none"/>
<text x="497.80" y="340.80" class="yl" textLength="3.60" lengthAdjust="spacingAndGlyphs">0</text>
<text x="497.80" y="314.32" class="yl" textLength="10.10" lengthAdjust="spacingAndGlyphs">0.2</text>
<text x="497.80" y="287.84" class="yl" textLength="10.10" lengthAdjust="spacingAndGlyphs">0.4</text>
<text x="497.80" y="261.36" class="yl" textLength="10.10" lengthAdjust="spacingAndGlyphs">0.6</text>
<text x="497.80" y="234.88" class="yl" textLength="10.10" lengthAdjust="spacingAndGlyphs">0.8</text>
<text x="497.80" y="208.40" class="yl" textLength="3.60" lengthAdjust="spacingAndGlyphs">1</text>
<text x="501.00" y="347.80" class="xl" textLength="3.60" lengthAdjust="spacingAndGlyphs">0</text>
<text x="530.83" y="347.80" class="xl" textLength="3.60" lengthAdjust="spacingAndGlyphs">1</text>
<text x="560.67" y="347.80" class="xl" textLength="3.60" lengthAdjust="spacingAndGlyphs">2</text>
<text x="590.50" y="347.80" class="xl" textLength="3.60" lengthAdjust="spacingAndGlyphs">3</text>
<text x="620.33" y="347.80" class="xl" textLength="3.60" lengthAdjust="spacingAndGlyphs">4</text>
<text x="650.17" y="347.80" class="xl" textLength="3.60" lengthAdjust="spacingAndGlyphs">5</text>
<text x="680.00" y="347.80" class="xl" textLength="3.60" lengthAdjust="spacingAndGlyphs">6</text>
</svg></body></html>
